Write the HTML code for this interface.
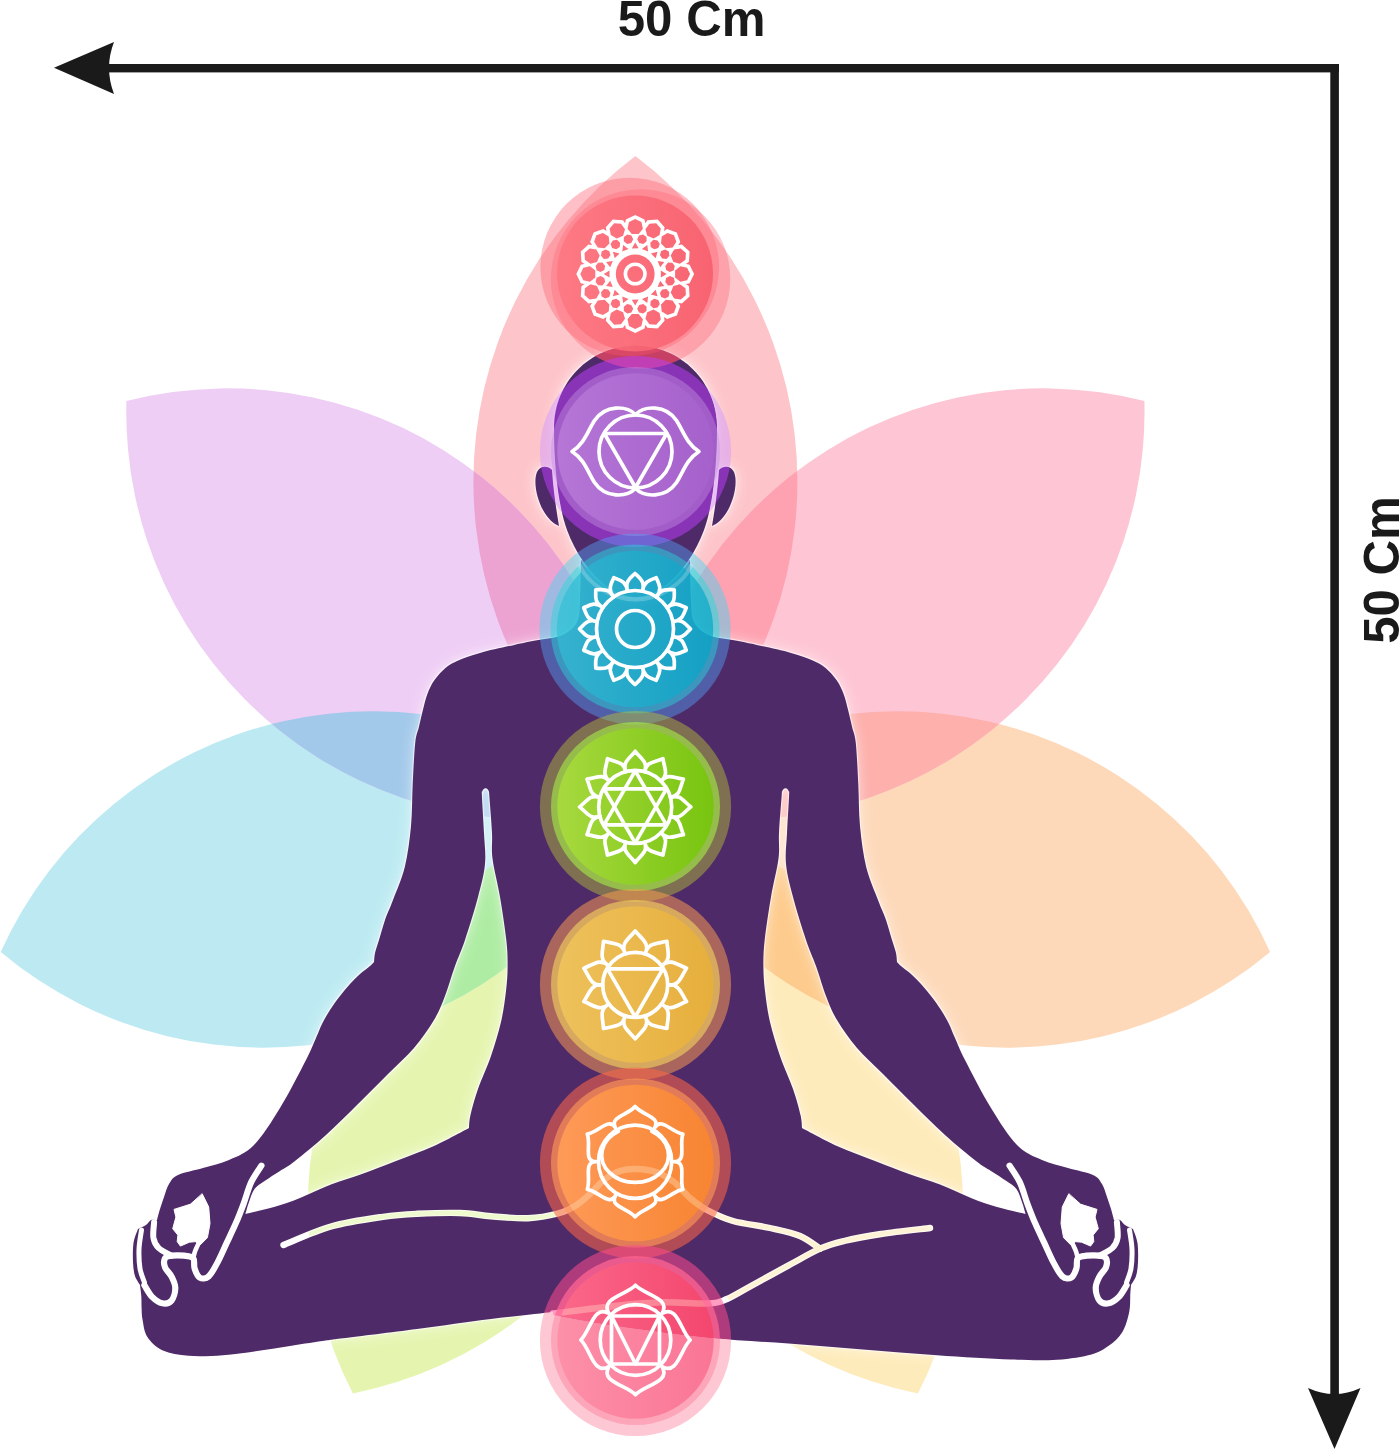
<!DOCTYPE html>
<html lang="en"><head><meta charset="utf-8"><title>Chakra meditation 50 Cm</title>
<style>html,body{margin:0;padding:0;background:#fff}body{width:1400px;height:1450px;overflow:hidden}svg{display:block}text{font-family:"Liberation Sans",Arial,sans-serif;font-weight:700;fill:#1a1a1a}</style>
</head><body>
<svg width="1400" height="1450" viewBox="0 0 1400 1450">
<defs>
<linearGradient id="g_crown" x1="0" y1="0" x2="1" y2="0"><stop offset="0" stop-color="#fd7781"/><stop offset="1" stop-color="#f75c6b"/></linearGradient>
<linearGradient id="g_third" x1="0" y1="0" x2="1" y2="0"><stop offset="0" stop-color="#d09cea"/><stop offset="1" stop-color="#aa66d0"/></linearGradient>
<linearGradient id="g_throat" x1="0" y1="0" x2="1" y2="0"><stop offset="0" stop-color="#33bfd6"/><stop offset="1" stop-color="#01a5c7"/></linearGradient>
<linearGradient id="g_heart" x1="0" y1="0" x2="1" y2="0"><stop offset="0" stop-color="#ace03b"/><stop offset="1" stop-color="#70c601"/></linearGradient>
<linearGradient id="g_solar" x1="0" y1="0" x2="1" y2="0"><stop offset="0" stop-color="#ffd35a"/><stop offset="1" stop-color="#f1b323"/></linearGradient>
<linearGradient id="g_sacral" x1="0" y1="0" x2="1" y2="0"><stop offset="0" stop-color="#ff9b58"/><stop offset="1" stop-color="#f88530"/></linearGradient>
<linearGradient id="g_root" x1="0" y1="0" x2="1" y2="0"><stop offset="0" stop-color="#ff6c8a"/><stop offset="1" stop-color="#f64166"/></linearGradient>
<clipPath id="c_pg"><path d="M635.4,807 A408,408 0 0 1 352.9,1393.5 A408,408 0 0 1 635.4,807 Z"/></clipPath>
<clipPath id="c_py"><path d="M635.4,807 A408,408 0 0 1 917.9,1393.5 A408,408 0 0 1 635.4,807 Z"/></clipPath>
<clipPath id="c_pb"><path d="M635.4,807 A408,408 0 0 1 0.7,951.9 A408,408 0 0 1 635.4,807 Z"/></clipPath>
<clipPath id="c_po"><path d="M635.4,807 A408,408 0 0 1 1270.1,951.9 A408,408 0 0 1 635.4,807 Z"/></clipPath>
<clipPath id="c_pt"><path d="M635.4,807 A408,408 0 0 1 635.4,156 A408,408 0 0 1 635.4,807 Z"/></clipPath>
<clipPath id="c_pl"><path d="M635.4,807 A408,408 0 0 1 126.4,401.1 A408,408 0 0 1 635.4,807 Z"/></clipPath>
<clipPath id="c_pp"><path d="M635.4,807 A408,408 0 0 1 1144.4,401.1 A408,408 0 0 1 635.4,807 Z"/></clipPath>
<filter id="edge" x="-5%" y="-5%" width="110%" height="110%"><feMorphology operator="dilate" radius="1.3"/><feGaussianBlur stdDeviation="0.7"/></filter>
<filter id="glow" x="-10%" y="-10%" width="120%" height="120%"><feGaussianBlur stdDeviation="6.5"/></filter>
<mask id="cuts" maskUnits="userSpaceOnUse" x="0" y="0" width="1400" height="1450">
<rect width="1400" height="1450" fill="#fff"/>
<g fill="none" stroke="#000" stroke-linecap="round" stroke-linejoin="round">
<g><path d="M261.4,1165.7C259.7,1168.5 254.1,1176 251.1,1182.4C248.1,1188.8 246,1197.4 243.4,1204.3C240.8,1211.2 238.5,1217.2 235.7,1223.6C232.9,1230 229.7,1236.5 226.7,1242.9C223.7,1249.3 220.7,1256.5 217.7,1262.1C214.7,1267.7 211.7,1273.7 208.7,1276.3C205.7,1278.9 202,1278.9 199.7,1277.6C197.3,1276.3 195.7,1271.8 194.6,1268.6C193.5,1265.4 195,1260.4 193.3,1258.3C191.6,1256.2 188,1256.1 184.3,1255.7C180.7,1255.3 174.6,1255.3 171.4,1255.7C168.2,1256.1 166.1,1256.4 165,1258.3C163.9,1260.2 163.9,1264.3 165,1267.3C166.1,1270.3 169.7,1272.9 171.4,1276.3C173.1,1279.7 175.3,1283.8 175.3,1287.9C175.3,1292 173.6,1298.1 171.4,1300.7C169.2,1303.3 165.6,1303.9 162.4,1303.3C159.2,1302.7 155.1,1299.9 152.1,1296.9C149.1,1293.9 145.7,1287.2 144.4,1285.3" stroke-width="6.2"/><path d="M154.1,1222.3C154,1224.9 152.7,1233.4 153.4,1237.7C154.2,1242 155.6,1245 158.6,1248C161.6,1251 169.3,1254.4 171.4,1255.7" stroke-width="6"/><path d="M141.5,1230C141.1,1233.2 139.2,1242.9 139,1249.3C138.8,1255.7 139.1,1263 140,1268.6C140.9,1274.2 143.8,1280.3 144.5,1282.7" stroke-width="5"/><path d="M193.3,1258.3C193.6,1257.2 194.1,1254.1 194.8,1252C195.5,1249.9 197.1,1246.6 197.6,1245.5" stroke-width="4.6"/><path d="M202.3,1194L208.7,1206.9L210,1223.6L207.4,1237.7L198.4,1246.7L195.9,1241.6L189.4,1242.2L180.4,1246.1L177.2,1241.6L177.9,1235.1L172.7,1228.7L175.9,1217.1L174,1209.4L190.1,1204.3Z" fill="#000" stroke-width="1"/></g>
<g transform="translate(1271,0) scale(-1,1)"><path d="M261.4,1165.7C259.7,1168.5 254.1,1176 251.1,1182.4C248.1,1188.8 246,1197.4 243.4,1204.3C240.8,1211.2 238.5,1217.2 235.7,1223.6C232.9,1230 229.7,1236.5 226.7,1242.9C223.7,1249.3 220.7,1256.5 217.7,1262.1C214.7,1267.7 211.7,1273.7 208.7,1276.3C205.7,1278.9 202,1278.9 199.7,1277.6C197.3,1276.3 195.7,1271.8 194.6,1268.6C193.5,1265.4 195,1260.4 193.3,1258.3C191.6,1256.2 188,1256.1 184.3,1255.7C180.7,1255.3 174.6,1255.3 171.4,1255.7C168.2,1256.1 166.1,1256.4 165,1258.3C163.9,1260.2 163.9,1264.3 165,1267.3C166.1,1270.3 169.7,1272.9 171.4,1276.3C173.1,1279.7 175.3,1283.8 175.3,1287.9C175.3,1292 173.6,1298.1 171.4,1300.7C169.2,1303.3 165.6,1303.9 162.4,1303.3C159.2,1302.7 155.1,1299.9 152.1,1296.9C149.1,1293.9 145.7,1287.2 144.4,1285.3" stroke-width="6.2"/><path d="M154.1,1222.3C154,1224.9 152.7,1233.4 153.4,1237.7C154.2,1242 155.6,1245 158.6,1248C161.6,1251 169.3,1254.4 171.4,1255.7" stroke-width="6"/><path d="M141.5,1230C141.1,1233.2 139.2,1242.9 139,1249.3C138.8,1255.7 139.1,1263 140,1268.6C140.9,1274.2 143.8,1280.3 144.5,1282.7" stroke-width="5"/><path d="M193.3,1258.3C193.6,1257.2 194.1,1254.1 194.8,1252C195.5,1249.9 197.1,1246.6 197.6,1245.5" stroke-width="4.6"/><path d="M202.3,1194L208.7,1206.9L210,1223.6L207.4,1237.7L198.4,1246.7L195.9,1241.6L189.4,1242.2L180.4,1246.1L177.2,1241.6L177.9,1235.1L172.7,1228.7L175.9,1217.1L174,1209.4L190.1,1204.3Z" fill="#000" stroke-width="1"/></g>
<path d="M283.5,1245C291.4,1241.9 314.4,1231.2 331,1226.5C347.6,1221.8 368.7,1218.9 383,1216.8C397.3,1214.7 404.2,1214.4 417,1213.8C429.8,1213.2 447.7,1212.6 460,1213C472.3,1213.4 479.7,1215.4 491,1216.3C502.3,1217.2 516.8,1218.7 528,1218.2C539.2,1217.7 550.2,1215.5 558,1213.5C565.8,1211.5 569.7,1209.2 575,1206C580.3,1202.8 585.2,1198.3 590,1194C594.8,1189.7 599,1183.8 604,1180C609,1176.2 614.7,1172.8 620,1171C625.3,1169.2 630,1168.8 636,1169C642,1169.2 649.7,1169.8 656,1172C662.3,1174.2 668.3,1177.7 674,1182C679.7,1186.3 684.5,1193.3 690,1198C695.5,1202.7 699.8,1206.2 707,1210C714.2,1213.8 722.5,1218 733,1221C743.5,1224 758.8,1225.5 770,1228C781.2,1230.5 791.7,1232.5 800,1236C808.3,1239.5 816.7,1246.6 820,1248.7" stroke-width="6.4"/>
<path d="M930,1228C921.8,1229 895.3,1231.8 881,1234C866.7,1236.2 854.2,1238.5 844,1241C833.8,1243.5 829.2,1244.6 820,1248.7C810.8,1252.8 800.1,1259.2 788.6,1265.4C777.1,1271.6 761.3,1280.4 751,1286C740.7,1291.6 734,1296.1 727,1299C720,1301.9 719.7,1302.9 709,1303.4C698.3,1304 678.3,1301.9 663,1302.3C647.7,1302.7 635.3,1303.8 617,1305.7C598.7,1307.6 563.7,1312.2 553,1313.5" stroke-width="6.4"/>
</g></mask>
<mask id="outside" maskUnits="userSpaceOnUse" x="0" y="0" width="1400" height="1450"><rect width="1400" height="1450" fill="#fff"/><g fill="#000"><path d="M581,560C580.8,566.7 580.7,589.7 580,600C579.3,610.3 580,616.1 577,622C574,627.9 568.7,632.2 562,635.3C555.3,638.3 545,638.7 537,640.3C529,641.9 523.8,642.8 514.3,644.9C504.8,647 489.5,650.2 480,652.9C470.5,655.6 462.8,658.4 457.1,660.9C451.4,663.4 449.5,664.5 445.7,667.7C441.9,670.9 437.4,675.9 434.3,680.3C431.2,684.7 429.3,689 427.4,694C425.5,699 424.3,704.5 422.9,710C421.5,715.5 420.2,721.5 418.9,727C417.6,732.5 416.2,733.5 415.2,743C414.2,752.5 413.4,770.2 412.7,784C412,797.8 412.3,812.2 411,826C409.7,839.8 407.8,854.7 404.8,867C401.8,879.3 396.3,891.2 393,900C389.7,908.8 387.3,913.3 385,920C382.7,926.7 380.7,934.5 379,940C377.3,945.5 375.8,949.3 375,953C374.2,956.7 374.2,960.5 374,962C373.3,962.7 372.3,964 370,966C367.7,968 363.3,971 360,974C356.7,977 353.3,980.3 350,984C346.7,987.7 343.3,991.7 340,996C336.7,1000.3 333,1005.3 330,1010C327,1014.7 324.3,1019.3 322,1024C319.7,1028.7 318.7,1032 316,1038C313.3,1044 312,1048.3 306,1060C300,1071.7 288.7,1093.8 280,1108C271.3,1122.2 262.5,1136.3 254,1145C245.5,1153.7 237.5,1156.2 229,1160C220.5,1163.8 211.5,1165.5 203,1168C194.5,1170.5 183.7,1172.3 178,1175C172.3,1177.7 171.3,1180.3 169,1184C166.7,1187.7 165.5,1192.8 164,1197C162.5,1201.2 161.2,1205.2 160,1209C158.8,1212.8 157.5,1218.2 157,1220C156,1220 152.8,1219.2 151,1220C149.2,1220.8 148.2,1223.5 146,1225C143.8,1226.5 139.3,1228.3 138,1229C137.2,1231.3 134.3,1237.5 133.5,1243C132.7,1248.5 132.8,1256.5 133,1262C133.2,1267.5 133.8,1272.2 135,1276C136.2,1279.8 139.2,1283.5 140,1285C140.2,1286.8 141,1292.2 141.3,1296C141.6,1299.8 141.4,1304 141.6,1308C141.8,1312 141.6,1315.2 142.6,1320C143.6,1324.8 144,1331.9 147.4,1337C150.8,1342.1 156,1347.4 162.9,1350.5C169.8,1353.6 178.6,1355 188.6,1355.8C198.6,1356.6 211.5,1356 222.9,1355.2C234.3,1354.4 245.8,1352.6 257.2,1351C268.6,1349.4 280.1,1347.5 291.5,1345.8C302.9,1344.1 317.2,1341.8 325.8,1340.6C334.4,1339.3 327.8,1340.2 343,1338.3C358.2,1336.4 392.3,1332.2 417,1329C441.7,1325.8 468.3,1321.8 491,1319C513.7,1316.2 542.7,1313.2 553,1312L553,1315C563.7,1316.8 591,1322.2 617,1326C643,1329.8 680.4,1334.8 709,1337.7C737.6,1340.6 762.9,1341.6 788.6,1343.6C814.3,1345.6 838.3,1347.6 863,1349.5C887.7,1351.4 912.3,1353.5 937,1355.2C961.7,1356.9 991,1358.8 1011,1359.6C1031,1360.3 1043.6,1360.6 1057,1359.7C1070.4,1358.8 1082.9,1356.7 1091.5,1354.4C1100.1,1352.1 1103.5,1349.5 1108.7,1345.8C1113.9,1342.1 1119,1337.7 1122.4,1332C1125.8,1326.3 1128,1317.8 1129.3,1311.5C1130.6,1305.2 1130,1298.4 1130.3,1294C1130.6,1289.6 1130.9,1286.5 1131,1285C1131.8,1283.5 1134.8,1279.8 1136,1276C1137.2,1272.2 1137.8,1267.5 1138,1262C1138.2,1256.5 1138.3,1248.5 1137.5,1243C1136.7,1237.5 1133.8,1231.3 1133,1229C1131.7,1228.3 1127.2,1226.5 1125,1225C1122.8,1223.5 1121.8,1220.8 1120,1220C1118.2,1219.2 1115,1220 1114,1220C1113.5,1218.2 1112.2,1212.8 1111,1209C1109.8,1205.2 1108.5,1201.2 1107,1197C1105.5,1192.8 1104.3,1187.7 1102,1184C1099.7,1180.3 1098.7,1177.7 1093,1175C1087.3,1172.3 1076.5,1170.5 1068,1168C1059.5,1165.5 1050.5,1163.8 1042,1160C1033.5,1156.2 1025.5,1153.7 1017,1145C1008.5,1136.3 999.7,1122.2 991,1108C982.3,1093.8 971,1071.7 965,1060C959,1048.3 957.7,1044 955,1038C952.3,1032 951.3,1028.7 949,1024C946.7,1019.3 944,1014.7 941,1010C938,1005.3 934.3,1000.3 931,996C927.7,991.7 924.3,987.7 921,984C917.7,980.3 914.3,977 911,974C907.7,971 903.3,968 901,966C898.7,964 897.7,962.7 897,962C896.8,960.5 896.8,956.7 896,953C895.2,949.3 893.7,945.5 892,940C890.3,934.5 888.3,926.7 886,920C883.7,913.3 881.3,908.8 878,900C874.7,891.2 869.2,879.3 866.2,867C863.2,854.7 861.3,839.8 860,826C858.7,812.2 859,797.8 858.3,784C857.6,770.2 856.8,752.5 855.8,743C854.8,733.5 853.4,732.5 852.1,727C850.8,721.5 849.5,715.5 848.1,710C846.7,704.5 845.5,699 843.6,694C841.7,689 839.8,684.7 836.7,680.3C833.7,675.9 829.1,670.9 825.3,667.7C821.5,664.5 819.6,663.4 813.9,660.9C808.2,658.4 800.5,655.6 791,652.9C781.5,650.2 766.2,647 756.7,644.9C747.2,642.8 742,641.9 734,640.3C726,638.7 715.7,638.3 709,635.3C702.3,632.2 697,627.9 694,622C691,616.1 691.7,610.3 691,600C690.3,589.7 690.2,566.7 690,560ZM485.5,788.3C485.2,788.4 484.1,788.7 483.5,789.2C482.9,789.8 482.5,790.6 482.2,791.6C481.9,792.6 481.6,788.6 481.9,795.5C482.2,802.4 483.5,821.6 484,833C484.5,844.4 486,853.3 485,864C484,874.7 481.3,884.3 478,897C474.7,909.7 468.8,928.5 465,940C461.2,951.5 458.4,956.5 455,966C451.6,975.5 448.1,988 444.6,997C441.1,1006 439.1,1011.5 434,1020C428.9,1028.5 421.7,1039 414,1048C406.3,1057 397.5,1064.5 388,1074C378.5,1083.5 367.3,1094.8 357,1105C346.7,1115.2 336.3,1125.7 326,1135C315.7,1144.3 302.7,1155 295,1161C287.3,1167 285.1,1167.7 280,1171C274.9,1174.3 268.9,1178 264.6,1181C260.4,1184 257.1,1185.5 254.5,1189C251.9,1192.5 250.5,1197.8 249,1202C247.5,1206.2 246,1212 245.4,1214C250.2,1212.8 264.9,1209.7 274,1207C283.1,1204.3 290.5,1201.8 300,1198C309.5,1194.2 320.7,1188.5 331,1184.5C341.3,1180.5 351.2,1177.9 362,1174C372.8,1170.1 384,1165.7 396,1161C408,1156.3 421.8,1151.5 434,1146C446.2,1140.5 463.2,1131 469,1128C469.2,1125.8 469,1121.5 470.5,1115C472,1108.5 474.6,1098.8 478,1089C481.4,1079.2 487.2,1067.2 491,1056C494.8,1044.8 498.5,1032.8 501,1022C503.5,1011.2 504.9,1000.3 506,991C507.1,981.7 507.6,974.5 507.6,966C507.7,957.5 507.6,951.5 506.3,940C505,928.5 502.3,910.6 500,897C497.7,883.4 493.8,869.3 492.5,858.6C491.2,847.9 492.5,843.5 492,833C491.5,822.5 489.8,802.4 489.3,795.5C488.8,788.6 489.2,792.6 488.9,791.6C488.6,790.6 488.2,789.8 487.6,789.2C487,788.7 485.9,788.4 485.5,788.3ZM785.5,788.3C785.8,788.4 787,788.7 787.5,789.2C788,789.8 788.5,790.6 788.8,791.6C789.1,792.6 789.4,788.6 789.1,795.5C788.8,802.4 787.5,821.6 787,833C786.5,844.4 785,853.3 786,864C787,874.7 789.7,884.3 793,897C796.3,909.7 802.2,928.5 806,940C809.8,951.5 812.6,956.5 816,966C819.4,975.5 822.9,988 826.4,997C829.9,1006 831.9,1011.5 837,1020C842.1,1028.5 849.3,1039 857,1048C864.7,1057 873.5,1064.5 883,1074C892.5,1083.5 903.7,1094.8 914,1105C924.3,1115.2 934.7,1125.7 945,1135C955.3,1144.3 968.3,1155 976,1161C983.7,1167 985.9,1167.7 991,1171C996.1,1174.3 1002.1,1178 1006.4,1181C1010.6,1184 1013.9,1185.5 1016.5,1189C1019.1,1192.5 1020.5,1197.8 1022,1202C1023.5,1206.2 1025,1212 1025.6,1214C1020.8,1212.8 1006.1,1209.7 997,1207C987.9,1204.3 980.5,1201.8 971,1198C961.5,1194.2 950.3,1188.5 940,1184.5C929.7,1180.5 919.8,1177.9 909,1174C898.2,1170.1 887,1165.7 875,1161C863,1156.3 849.2,1151.5 837,1146C824.8,1140.5 807.8,1131 802,1128C801.8,1125.8 802,1121.5 800.5,1115C799,1108.5 796.4,1098.8 793,1089C789.6,1079.2 783.8,1067.2 780,1056C776.2,1044.8 772.5,1032.8 770,1022C767.5,1011.2 766.1,1000.3 765,991C763.9,981.7 763.4,974.5 763.4,966C763.4,957.5 763.4,951.5 764.7,940C766,928.5 768.7,910.6 771,897C773.3,883.4 777.2,869.3 778.5,858.6C779.8,847.9 778.5,843.5 779,833C779.5,822.5 781.2,802.4 781.7,795.5C782.2,788.6 781.8,792.6 782.1,791.6C782.4,790.6 782.8,789.8 783.4,789.2C784,788.7 785.1,788.4 785.5,788.3Z" fill-rule="evenodd"/><path d="M635.5,345.7 C590,345.7 554,382 554,428 C554,465 558,505 567,530 C575,552 590,575 610,589 C620,595 630,597 635.5,597 C641,597 651,595 661,589 C681,575 696,552 704,530 C713,505 717,465 717,428 C717,382 681,345.7 635.5,345.7Z"/><path d="M552,470 C547,465 540,466 537,472 C533,482 537,499 543,510 C548,519 554,524 559,526 C556,508 553,488 552,470Z"/><path d="M552,470 C547,465 540,466 537,472 C533,482 537,499 543,510 C548,519 554,524 559,526 C556,508 553,488 552,470Z" transform="translate(1271,0) scale(-1,1)"/></g></mask><clipPath id="inside"><path d="M581,560C580.8,566.7 580.7,589.7 580,600C579.3,610.3 580,616.1 577,622C574,627.9 568.7,632.2 562,635.3C555.3,638.3 545,638.7 537,640.3C529,641.9 523.8,642.8 514.3,644.9C504.8,647 489.5,650.2 480,652.9C470.5,655.6 462.8,658.4 457.1,660.9C451.4,663.4 449.5,664.5 445.7,667.7C441.9,670.9 437.4,675.9 434.3,680.3C431.2,684.7 429.3,689 427.4,694C425.5,699 424.3,704.5 422.9,710C421.5,715.5 420.2,721.5 418.9,727C417.6,732.5 416.2,733.5 415.2,743C414.2,752.5 413.4,770.2 412.7,784C412,797.8 412.3,812.2 411,826C409.7,839.8 407.8,854.7 404.8,867C401.8,879.3 396.3,891.2 393,900C389.7,908.8 387.3,913.3 385,920C382.7,926.7 380.7,934.5 379,940C377.3,945.5 375.8,949.3 375,953C374.2,956.7 374.2,960.5 374,962C373.3,962.7 372.3,964 370,966C367.7,968 363.3,971 360,974C356.7,977 353.3,980.3 350,984C346.7,987.7 343.3,991.7 340,996C336.7,1000.3 333,1005.3 330,1010C327,1014.7 324.3,1019.3 322,1024C319.7,1028.7 318.7,1032 316,1038C313.3,1044 312,1048.3 306,1060C300,1071.7 288.7,1093.8 280,1108C271.3,1122.2 262.5,1136.3 254,1145C245.5,1153.7 237.5,1156.2 229,1160C220.5,1163.8 211.5,1165.5 203,1168C194.5,1170.5 183.7,1172.3 178,1175C172.3,1177.7 171.3,1180.3 169,1184C166.7,1187.7 165.5,1192.8 164,1197C162.5,1201.2 161.2,1205.2 160,1209C158.8,1212.8 157.5,1218.2 157,1220C156,1220 152.8,1219.2 151,1220C149.2,1220.8 148.2,1223.5 146,1225C143.8,1226.5 139.3,1228.3 138,1229C137.2,1231.3 134.3,1237.5 133.5,1243C132.7,1248.5 132.8,1256.5 133,1262C133.2,1267.5 133.8,1272.2 135,1276C136.2,1279.8 139.2,1283.5 140,1285C140.2,1286.8 141,1292.2 141.3,1296C141.6,1299.8 141.4,1304 141.6,1308C141.8,1312 141.6,1315.2 142.6,1320C143.6,1324.8 144,1331.9 147.4,1337C150.8,1342.1 156,1347.4 162.9,1350.5C169.8,1353.6 178.6,1355 188.6,1355.8C198.6,1356.6 211.5,1356 222.9,1355.2C234.3,1354.4 245.8,1352.6 257.2,1351C268.6,1349.4 280.1,1347.5 291.5,1345.8C302.9,1344.1 317.2,1341.8 325.8,1340.6C334.4,1339.3 327.8,1340.2 343,1338.3C358.2,1336.4 392.3,1332.2 417,1329C441.7,1325.8 468.3,1321.8 491,1319C513.7,1316.2 542.7,1313.2 553,1312L553,1315C563.7,1316.8 591,1322.2 617,1326C643,1329.8 680.4,1334.8 709,1337.7C737.6,1340.6 762.9,1341.6 788.6,1343.6C814.3,1345.6 838.3,1347.6 863,1349.5C887.7,1351.4 912.3,1353.5 937,1355.2C961.7,1356.9 991,1358.8 1011,1359.6C1031,1360.3 1043.6,1360.6 1057,1359.7C1070.4,1358.8 1082.9,1356.7 1091.5,1354.4C1100.1,1352.1 1103.5,1349.5 1108.7,1345.8C1113.9,1342.1 1119,1337.7 1122.4,1332C1125.8,1326.3 1128,1317.8 1129.3,1311.5C1130.6,1305.2 1130,1298.4 1130.3,1294C1130.6,1289.6 1130.9,1286.5 1131,1285C1131.8,1283.5 1134.8,1279.8 1136,1276C1137.2,1272.2 1137.8,1267.5 1138,1262C1138.2,1256.5 1138.3,1248.5 1137.5,1243C1136.7,1237.5 1133.8,1231.3 1133,1229C1131.7,1228.3 1127.2,1226.5 1125,1225C1122.8,1223.5 1121.8,1220.8 1120,1220C1118.2,1219.2 1115,1220 1114,1220C1113.5,1218.2 1112.2,1212.8 1111,1209C1109.8,1205.2 1108.5,1201.2 1107,1197C1105.5,1192.8 1104.3,1187.7 1102,1184C1099.7,1180.3 1098.7,1177.7 1093,1175C1087.3,1172.3 1076.5,1170.5 1068,1168C1059.5,1165.5 1050.5,1163.8 1042,1160C1033.5,1156.2 1025.5,1153.7 1017,1145C1008.5,1136.3 999.7,1122.2 991,1108C982.3,1093.8 971,1071.7 965,1060C959,1048.3 957.7,1044 955,1038C952.3,1032 951.3,1028.7 949,1024C946.7,1019.3 944,1014.7 941,1010C938,1005.3 934.3,1000.3 931,996C927.7,991.7 924.3,987.7 921,984C917.7,980.3 914.3,977 911,974C907.7,971 903.3,968 901,966C898.7,964 897.7,962.7 897,962C896.8,960.5 896.8,956.7 896,953C895.2,949.3 893.7,945.5 892,940C890.3,934.5 888.3,926.7 886,920C883.7,913.3 881.3,908.8 878,900C874.7,891.2 869.2,879.3 866.2,867C863.2,854.7 861.3,839.8 860,826C858.7,812.2 859,797.8 858.3,784C857.6,770.2 856.8,752.5 855.8,743C854.8,733.5 853.4,732.5 852.1,727C850.8,721.5 849.5,715.5 848.1,710C846.7,704.5 845.5,699 843.6,694C841.7,689 839.8,684.7 836.7,680.3C833.7,675.9 829.1,670.9 825.3,667.7C821.5,664.5 819.6,663.4 813.9,660.9C808.2,658.4 800.5,655.6 791,652.9C781.5,650.2 766.2,647 756.7,644.9C747.2,642.8 742,641.9 734,640.3C726,638.7 715.7,638.3 709,635.3C702.3,632.2 697,627.9 694,622C691,616.1 691.7,610.3 691,600C690.3,589.7 690.2,566.7 690,560ZM485.5,788.3C485.2,788.4 484.1,788.7 483.5,789.2C482.9,789.8 482.5,790.6 482.2,791.6C481.9,792.6 481.6,788.6 481.9,795.5C482.2,802.4 483.5,821.6 484,833C484.5,844.4 486,853.3 485,864C484,874.7 481.3,884.3 478,897C474.7,909.7 468.8,928.5 465,940C461.2,951.5 458.4,956.5 455,966C451.6,975.5 448.1,988 444.6,997C441.1,1006 439.1,1011.5 434,1020C428.9,1028.5 421.7,1039 414,1048C406.3,1057 397.5,1064.5 388,1074C378.5,1083.5 367.3,1094.8 357,1105C346.7,1115.2 336.3,1125.7 326,1135C315.7,1144.3 302.7,1155 295,1161C287.3,1167 285.1,1167.7 280,1171C274.9,1174.3 268.9,1178 264.6,1181C260.4,1184 257.1,1185.5 254.5,1189C251.9,1192.5 250.5,1197.8 249,1202C247.5,1206.2 246,1212 245.4,1214C250.2,1212.8 264.9,1209.7 274,1207C283.1,1204.3 290.5,1201.8 300,1198C309.5,1194.2 320.7,1188.5 331,1184.5C341.3,1180.5 351.2,1177.9 362,1174C372.8,1170.1 384,1165.7 396,1161C408,1156.3 421.8,1151.5 434,1146C446.2,1140.5 463.2,1131 469,1128C469.2,1125.8 469,1121.5 470.5,1115C472,1108.5 474.6,1098.8 478,1089C481.4,1079.2 487.2,1067.2 491,1056C494.8,1044.8 498.5,1032.8 501,1022C503.5,1011.2 504.9,1000.3 506,991C507.1,981.7 507.6,974.5 507.6,966C507.7,957.5 507.6,951.5 506.3,940C505,928.5 502.3,910.6 500,897C497.7,883.4 493.8,869.3 492.5,858.6C491.2,847.9 492.5,843.5 492,833C491.5,822.5 489.8,802.4 489.3,795.5C488.8,788.6 489.2,792.6 488.9,791.6C488.6,790.6 488.2,789.8 487.6,789.2C487,788.7 485.9,788.4 485.5,788.3ZM785.5,788.3C785.8,788.4 787,788.7 787.5,789.2C788,789.8 788.5,790.6 788.8,791.6C789.1,792.6 789.4,788.6 789.1,795.5C788.8,802.4 787.5,821.6 787,833C786.5,844.4 785,853.3 786,864C787,874.7 789.7,884.3 793,897C796.3,909.7 802.2,928.5 806,940C809.8,951.5 812.6,956.5 816,966C819.4,975.5 822.9,988 826.4,997C829.9,1006 831.9,1011.5 837,1020C842.1,1028.5 849.3,1039 857,1048C864.7,1057 873.5,1064.5 883,1074C892.5,1083.5 903.7,1094.8 914,1105C924.3,1115.2 934.7,1125.7 945,1135C955.3,1144.3 968.3,1155 976,1161C983.7,1167 985.9,1167.7 991,1171C996.1,1174.3 1002.1,1178 1006.4,1181C1010.6,1184 1013.9,1185.5 1016.5,1189C1019.1,1192.5 1020.5,1197.8 1022,1202C1023.5,1206.2 1025,1212 1025.6,1214C1020.8,1212.8 1006.1,1209.7 997,1207C987.9,1204.3 980.5,1201.8 971,1198C961.5,1194.2 950.3,1188.5 940,1184.5C929.7,1180.5 919.8,1177.9 909,1174C898.2,1170.1 887,1165.7 875,1161C863,1156.3 849.2,1151.5 837,1146C824.8,1140.5 807.8,1131 802,1128C801.8,1125.8 802,1121.5 800.5,1115C799,1108.5 796.4,1098.8 793,1089C789.6,1079.2 783.8,1067.2 780,1056C776.2,1044.8 772.5,1032.8 770,1022C767.5,1011.2 766.1,1000.3 765,991C763.9,981.7 763.4,974.5 763.4,966C763.4,957.5 763.4,951.5 764.7,940C766,928.5 768.7,910.6 771,897C773.3,883.4 777.2,869.3 778.5,858.6C779.8,847.9 778.5,843.5 779,833C779.5,822.5 781.2,802.4 781.7,795.5C782.2,788.6 781.8,792.6 782.1,791.6C782.4,790.6 782.8,789.8 783.4,789.2C784,788.7 785.1,788.4 785.5,788.3Z" clip-rule="evenodd"/><path d="M635.5,345.7 C590,345.7 554,382 554,428 C554,465 558,505 567,530 C575,552 590,575 610,589 C620,595 630,597 635.5,597 C641,597 651,595 661,589 C681,575 696,552 704,530 C713,505 717,465 717,428 C717,382 681,345.7 635.5,345.7Z"/><path d="M552,470 C547,465 540,466 537,472 C533,482 537,499 543,510 C548,519 554,524 559,526 C556,508 553,488 552,470Z"/><path d="M552,470 C547,465 540,466 537,472 C533,482 537,499 543,510 C548,519 554,524 559,526 C556,508 553,488 552,470Z" transform="translate(1271,0) scale(-1,1)"/></clipPath>
</defs>
<rect width="1400" height="1450" fill="#fff"/>
<g id="petals">
<path d="M635.4,807 A408,408 0 0 1 352.9,1393.5 A408,408 0 0 1 635.4,807 Z" fill="#e5f5b0"/>
<path d="M635.4,807 A408,408 0 0 1 917.9,1393.5 A408,408 0 0 1 635.4,807 Z" fill="#feebbb"/>
<path d="M635.4,807 A408,408 0 0 1 0.7,951.9 A408,408 0 0 1 635.4,807 Z" fill="#bdeaf2"/>
<path d="M635.4,807 A408,408 0 0 1 1270.1,951.9 A408,408 0 0 1 635.4,807 Z" fill="#fdd9ba"/>
<path d="M635.4,807 A408,408 0 0 1 635.4,156 A408,408 0 0 1 635.4,807 Z" fill="#fdc5ca"/>
<path d="M635.4,807 A408,408 0 0 1 126.4,401.1 A408,408 0 0 1 635.4,807 Z" fill="#efcef5"/>
<path d="M635.4,807 A408,408 0 0 1 1144.4,401.1 A408,408 0 0 1 635.4,807 Z" fill="#fec6d4"/>
<path d="M635.4,807 A408,408 0 0 1 635.4,156 A408,408 0 0 1 635.4,807 Z" fill="#eda3d2" clip-path="url(#c_pl)"/>
<path d="M635.4,807 A408,408 0 0 1 635.4,156 A408,408 0 0 1 635.4,807 Z" fill="#fea1b0" clip-path="url(#c_pp)"/>
<path d="M635.4,807 A408,408 0 0 1 126.4,401.1 A408,408 0 0 1 635.4,807 Z" fill="#a3c9ea" clip-path="url(#c_pb)"/>
<path d="M635.4,807 A408,408 0 0 1 1144.4,401.1 A408,408 0 0 1 635.4,807 Z" fill="#fdb0ac" clip-path="url(#c_po)"/>
<path d="M635.4,807 A408,408 0 0 1 0.7,951.9 A408,408 0 0 1 635.4,807 Z" fill="#aeeca3" clip-path="url(#c_pg)"/>
<path d="M635.4,807 A408,408 0 0 1 1270.1,951.9 A408,408 0 0 1 635.4,807 Z" fill="#fdcb8d" clip-path="url(#c_py)"/>
<path d="M635.4,807 A408,408 0 0 1 352.9,1393.5 A408,408 0 0 1 635.4,807 Z" fill="#e6e08a" clip-path="url(#c_py)"/>
</g>
<g opacity="0.62" filter="url(#glow)"><g fill="#fff" mask="url(#cuts)"><path d="M581,560C580.8,566.7 580.7,589.7 580,600C579.3,610.3 580,616.1 577,622C574,627.9 568.7,632.2 562,635.3C555.3,638.3 545,638.7 537,640.3C529,641.9 523.8,642.8 514.3,644.9C504.8,647 489.5,650.2 480,652.9C470.5,655.6 462.8,658.4 457.1,660.9C451.4,663.4 449.5,664.5 445.7,667.7C441.9,670.9 437.4,675.9 434.3,680.3C431.2,684.7 429.3,689 427.4,694C425.5,699 424.3,704.5 422.9,710C421.5,715.5 420.2,721.5 418.9,727C417.6,732.5 416.2,733.5 415.2,743C414.2,752.5 413.4,770.2 412.7,784C412,797.8 412.3,812.2 411,826C409.7,839.8 407.8,854.7 404.8,867C401.8,879.3 396.3,891.2 393,900C389.7,908.8 387.3,913.3 385,920C382.7,926.7 380.7,934.5 379,940C377.3,945.5 375.8,949.3 375,953C374.2,956.7 374.2,960.5 374,962C373.3,962.7 372.3,964 370,966C367.7,968 363.3,971 360,974C356.7,977 353.3,980.3 350,984C346.7,987.7 343.3,991.7 340,996C336.7,1000.3 333,1005.3 330,1010C327,1014.7 324.3,1019.3 322,1024C319.7,1028.7 318.7,1032 316,1038C313.3,1044 312,1048.3 306,1060C300,1071.7 288.7,1093.8 280,1108C271.3,1122.2 262.5,1136.3 254,1145C245.5,1153.7 237.5,1156.2 229,1160C220.5,1163.8 211.5,1165.5 203,1168C194.5,1170.5 183.7,1172.3 178,1175C172.3,1177.7 171.3,1180.3 169,1184C166.7,1187.7 165.5,1192.8 164,1197C162.5,1201.2 161.2,1205.2 160,1209C158.8,1212.8 157.5,1218.2 157,1220C156,1220 152.8,1219.2 151,1220C149.2,1220.8 148.2,1223.5 146,1225C143.8,1226.5 139.3,1228.3 138,1229C137.2,1231.3 134.3,1237.5 133.5,1243C132.7,1248.5 132.8,1256.5 133,1262C133.2,1267.5 133.8,1272.2 135,1276C136.2,1279.8 139.2,1283.5 140,1285C140.2,1286.8 141,1292.2 141.3,1296C141.6,1299.8 141.4,1304 141.6,1308C141.8,1312 141.6,1315.2 142.6,1320C143.6,1324.8 144,1331.9 147.4,1337C150.8,1342.1 156,1347.4 162.9,1350.5C169.8,1353.6 178.6,1355 188.6,1355.8C198.6,1356.6 211.5,1356 222.9,1355.2C234.3,1354.4 245.8,1352.6 257.2,1351C268.6,1349.4 280.1,1347.5 291.5,1345.8C302.9,1344.1 317.2,1341.8 325.8,1340.6C334.4,1339.3 327.8,1340.2 343,1338.3C358.2,1336.4 392.3,1332.2 417,1329C441.7,1325.8 468.3,1321.8 491,1319C513.7,1316.2 542.7,1313.2 553,1312L553,1315C563.7,1316.8 591,1322.2 617,1326C643,1329.8 680.4,1334.8 709,1337.7C737.6,1340.6 762.9,1341.6 788.6,1343.6C814.3,1345.6 838.3,1347.6 863,1349.5C887.7,1351.4 912.3,1353.5 937,1355.2C961.7,1356.9 991,1358.8 1011,1359.6C1031,1360.3 1043.6,1360.6 1057,1359.7C1070.4,1358.8 1082.9,1356.7 1091.5,1354.4C1100.1,1352.1 1103.5,1349.5 1108.7,1345.8C1113.9,1342.1 1119,1337.7 1122.4,1332C1125.8,1326.3 1128,1317.8 1129.3,1311.5C1130.6,1305.2 1130,1298.4 1130.3,1294C1130.6,1289.6 1130.9,1286.5 1131,1285C1131.8,1283.5 1134.8,1279.8 1136,1276C1137.2,1272.2 1137.8,1267.5 1138,1262C1138.2,1256.5 1138.3,1248.5 1137.5,1243C1136.7,1237.5 1133.8,1231.3 1133,1229C1131.7,1228.3 1127.2,1226.5 1125,1225C1122.8,1223.5 1121.8,1220.8 1120,1220C1118.2,1219.2 1115,1220 1114,1220C1113.5,1218.2 1112.2,1212.8 1111,1209C1109.8,1205.2 1108.5,1201.2 1107,1197C1105.5,1192.8 1104.3,1187.7 1102,1184C1099.7,1180.3 1098.7,1177.7 1093,1175C1087.3,1172.3 1076.5,1170.5 1068,1168C1059.5,1165.5 1050.5,1163.8 1042,1160C1033.5,1156.2 1025.5,1153.7 1017,1145C1008.5,1136.3 999.7,1122.2 991,1108C982.3,1093.8 971,1071.7 965,1060C959,1048.3 957.7,1044 955,1038C952.3,1032 951.3,1028.7 949,1024C946.7,1019.3 944,1014.7 941,1010C938,1005.3 934.3,1000.3 931,996C927.7,991.7 924.3,987.7 921,984C917.7,980.3 914.3,977 911,974C907.7,971 903.3,968 901,966C898.7,964 897.7,962.7 897,962C896.8,960.5 896.8,956.7 896,953C895.2,949.3 893.7,945.5 892,940C890.3,934.5 888.3,926.7 886,920C883.7,913.3 881.3,908.8 878,900C874.7,891.2 869.2,879.3 866.2,867C863.2,854.7 861.3,839.8 860,826C858.7,812.2 859,797.8 858.3,784C857.6,770.2 856.8,752.5 855.8,743C854.8,733.5 853.4,732.5 852.1,727C850.8,721.5 849.5,715.5 848.1,710C846.7,704.5 845.5,699 843.6,694C841.7,689 839.8,684.7 836.7,680.3C833.7,675.9 829.1,670.9 825.3,667.7C821.5,664.5 819.6,663.4 813.9,660.9C808.2,658.4 800.5,655.6 791,652.9C781.5,650.2 766.2,647 756.7,644.9C747.2,642.8 742,641.9 734,640.3C726,638.7 715.7,638.3 709,635.3C702.3,632.2 697,627.9 694,622C691,616.1 691.7,610.3 691,600C690.3,589.7 690.2,566.7 690,560ZM485.5,788.3C485.2,788.4 484.1,788.7 483.5,789.2C482.9,789.8 482.5,790.6 482.2,791.6C481.9,792.6 481.6,788.6 481.9,795.5C482.2,802.4 483.5,821.6 484,833C484.5,844.4 486,853.3 485,864C484,874.7 481.3,884.3 478,897C474.7,909.7 468.8,928.5 465,940C461.2,951.5 458.4,956.5 455,966C451.6,975.5 448.1,988 444.6,997C441.1,1006 439.1,1011.5 434,1020C428.9,1028.5 421.7,1039 414,1048C406.3,1057 397.5,1064.5 388,1074C378.5,1083.5 367.3,1094.8 357,1105C346.7,1115.2 336.3,1125.7 326,1135C315.7,1144.3 302.7,1155 295,1161C287.3,1167 285.1,1167.7 280,1171C274.9,1174.3 268.9,1178 264.6,1181C260.4,1184 257.1,1185.5 254.5,1189C251.9,1192.5 250.5,1197.8 249,1202C247.5,1206.2 246,1212 245.4,1214C250.2,1212.8 264.9,1209.7 274,1207C283.1,1204.3 290.5,1201.8 300,1198C309.5,1194.2 320.7,1188.5 331,1184.5C341.3,1180.5 351.2,1177.9 362,1174C372.8,1170.1 384,1165.7 396,1161C408,1156.3 421.8,1151.5 434,1146C446.2,1140.5 463.2,1131 469,1128C469.2,1125.8 469,1121.5 470.5,1115C472,1108.5 474.6,1098.8 478,1089C481.4,1079.2 487.2,1067.2 491,1056C494.8,1044.8 498.5,1032.8 501,1022C503.5,1011.2 504.9,1000.3 506,991C507.1,981.7 507.6,974.5 507.6,966C507.7,957.5 507.6,951.5 506.3,940C505,928.5 502.3,910.6 500,897C497.7,883.4 493.8,869.3 492.5,858.6C491.2,847.9 492.5,843.5 492,833C491.5,822.5 489.8,802.4 489.3,795.5C488.8,788.6 489.2,792.6 488.9,791.6C488.6,790.6 488.2,789.8 487.6,789.2C487,788.7 485.9,788.4 485.5,788.3ZM785.5,788.3C785.8,788.4 787,788.7 787.5,789.2C788,789.8 788.5,790.6 788.8,791.6C789.1,792.6 789.4,788.6 789.1,795.5C788.8,802.4 787.5,821.6 787,833C786.5,844.4 785,853.3 786,864C787,874.7 789.7,884.3 793,897C796.3,909.7 802.2,928.5 806,940C809.8,951.5 812.6,956.5 816,966C819.4,975.5 822.9,988 826.4,997C829.9,1006 831.9,1011.5 837,1020C842.1,1028.5 849.3,1039 857,1048C864.7,1057 873.5,1064.5 883,1074C892.5,1083.5 903.7,1094.8 914,1105C924.3,1115.2 934.7,1125.7 945,1135C955.3,1144.3 968.3,1155 976,1161C983.7,1167 985.9,1167.7 991,1171C996.1,1174.3 1002.1,1178 1006.4,1181C1010.6,1184 1013.9,1185.5 1016.5,1189C1019.1,1192.5 1020.5,1197.8 1022,1202C1023.5,1206.2 1025,1212 1025.6,1214C1020.8,1212.8 1006.1,1209.7 997,1207C987.9,1204.3 980.5,1201.8 971,1198C961.5,1194.2 950.3,1188.5 940,1184.5C929.7,1180.5 919.8,1177.9 909,1174C898.2,1170.1 887,1165.7 875,1161C863,1156.3 849.2,1151.5 837,1146C824.8,1140.5 807.8,1131 802,1128C801.8,1125.8 802,1121.5 800.5,1115C799,1108.5 796.4,1098.8 793,1089C789.6,1079.2 783.8,1067.2 780,1056C776.2,1044.8 772.5,1032.8 770,1022C767.5,1011.2 766.1,1000.3 765,991C763.9,981.7 763.4,974.5 763.4,966C763.4,957.5 763.4,951.5 764.7,940C766,928.5 768.7,910.6 771,897C773.3,883.4 777.2,869.3 778.5,858.6C779.8,847.9 778.5,843.5 779,833C779.5,822.5 781.2,802.4 781.7,795.5C782.2,788.6 781.8,792.6 782.1,791.6C782.4,790.6 782.8,789.8 783.4,789.2C784,788.7 785.1,788.4 785.5,788.3Z" fill-rule="evenodd"/></g></g>
<g opacity="0.6" filter="url(#edge)"><g fill="#fff" mask="url(#cuts)"><path d="M581,560C580.8,566.7 580.7,589.7 580,600C579.3,610.3 580,616.1 577,622C574,627.9 568.7,632.2 562,635.3C555.3,638.3 545,638.7 537,640.3C529,641.9 523.8,642.8 514.3,644.9C504.8,647 489.5,650.2 480,652.9C470.5,655.6 462.8,658.4 457.1,660.9C451.4,663.4 449.5,664.5 445.7,667.7C441.9,670.9 437.4,675.9 434.3,680.3C431.2,684.7 429.3,689 427.4,694C425.5,699 424.3,704.5 422.9,710C421.5,715.5 420.2,721.5 418.9,727C417.6,732.5 416.2,733.5 415.2,743C414.2,752.5 413.4,770.2 412.7,784C412,797.8 412.3,812.2 411,826C409.7,839.8 407.8,854.7 404.8,867C401.8,879.3 396.3,891.2 393,900C389.7,908.8 387.3,913.3 385,920C382.7,926.7 380.7,934.5 379,940C377.3,945.5 375.8,949.3 375,953C374.2,956.7 374.2,960.5 374,962C373.3,962.7 372.3,964 370,966C367.7,968 363.3,971 360,974C356.7,977 353.3,980.3 350,984C346.7,987.7 343.3,991.7 340,996C336.7,1000.3 333,1005.3 330,1010C327,1014.7 324.3,1019.3 322,1024C319.7,1028.7 318.7,1032 316,1038C313.3,1044 312,1048.3 306,1060C300,1071.7 288.7,1093.8 280,1108C271.3,1122.2 262.5,1136.3 254,1145C245.5,1153.7 237.5,1156.2 229,1160C220.5,1163.8 211.5,1165.5 203,1168C194.5,1170.5 183.7,1172.3 178,1175C172.3,1177.7 171.3,1180.3 169,1184C166.7,1187.7 165.5,1192.8 164,1197C162.5,1201.2 161.2,1205.2 160,1209C158.8,1212.8 157.5,1218.2 157,1220C156,1220 152.8,1219.2 151,1220C149.2,1220.8 148.2,1223.5 146,1225C143.8,1226.5 139.3,1228.3 138,1229C137.2,1231.3 134.3,1237.5 133.5,1243C132.7,1248.5 132.8,1256.5 133,1262C133.2,1267.5 133.8,1272.2 135,1276C136.2,1279.8 139.2,1283.5 140,1285C140.2,1286.8 141,1292.2 141.3,1296C141.6,1299.8 141.4,1304 141.6,1308C141.8,1312 141.6,1315.2 142.6,1320C143.6,1324.8 144,1331.9 147.4,1337C150.8,1342.1 156,1347.4 162.9,1350.5C169.8,1353.6 178.6,1355 188.6,1355.8C198.6,1356.6 211.5,1356 222.9,1355.2C234.3,1354.4 245.8,1352.6 257.2,1351C268.6,1349.4 280.1,1347.5 291.5,1345.8C302.9,1344.1 317.2,1341.8 325.8,1340.6C334.4,1339.3 327.8,1340.2 343,1338.3C358.2,1336.4 392.3,1332.2 417,1329C441.7,1325.8 468.3,1321.8 491,1319C513.7,1316.2 542.7,1313.2 553,1312L553,1315C563.7,1316.8 591,1322.2 617,1326C643,1329.8 680.4,1334.8 709,1337.7C737.6,1340.6 762.9,1341.6 788.6,1343.6C814.3,1345.6 838.3,1347.6 863,1349.5C887.7,1351.4 912.3,1353.5 937,1355.2C961.7,1356.9 991,1358.8 1011,1359.6C1031,1360.3 1043.6,1360.6 1057,1359.7C1070.4,1358.8 1082.9,1356.7 1091.5,1354.4C1100.1,1352.1 1103.5,1349.5 1108.7,1345.8C1113.9,1342.1 1119,1337.7 1122.4,1332C1125.8,1326.3 1128,1317.8 1129.3,1311.5C1130.6,1305.2 1130,1298.4 1130.3,1294C1130.6,1289.6 1130.9,1286.5 1131,1285C1131.8,1283.5 1134.8,1279.8 1136,1276C1137.2,1272.2 1137.8,1267.5 1138,1262C1138.2,1256.5 1138.3,1248.5 1137.5,1243C1136.7,1237.5 1133.8,1231.3 1133,1229C1131.7,1228.3 1127.2,1226.5 1125,1225C1122.8,1223.5 1121.8,1220.8 1120,1220C1118.2,1219.2 1115,1220 1114,1220C1113.5,1218.2 1112.2,1212.8 1111,1209C1109.8,1205.2 1108.5,1201.2 1107,1197C1105.5,1192.8 1104.3,1187.7 1102,1184C1099.7,1180.3 1098.7,1177.7 1093,1175C1087.3,1172.3 1076.5,1170.5 1068,1168C1059.5,1165.5 1050.5,1163.8 1042,1160C1033.5,1156.2 1025.5,1153.7 1017,1145C1008.5,1136.3 999.7,1122.2 991,1108C982.3,1093.8 971,1071.7 965,1060C959,1048.3 957.7,1044 955,1038C952.3,1032 951.3,1028.7 949,1024C946.7,1019.3 944,1014.7 941,1010C938,1005.3 934.3,1000.3 931,996C927.7,991.7 924.3,987.7 921,984C917.7,980.3 914.3,977 911,974C907.7,971 903.3,968 901,966C898.7,964 897.7,962.7 897,962C896.8,960.5 896.8,956.7 896,953C895.2,949.3 893.7,945.5 892,940C890.3,934.5 888.3,926.7 886,920C883.7,913.3 881.3,908.8 878,900C874.7,891.2 869.2,879.3 866.2,867C863.2,854.7 861.3,839.8 860,826C858.7,812.2 859,797.8 858.3,784C857.6,770.2 856.8,752.5 855.8,743C854.8,733.5 853.4,732.5 852.1,727C850.8,721.5 849.5,715.5 848.1,710C846.7,704.5 845.5,699 843.6,694C841.7,689 839.8,684.7 836.7,680.3C833.7,675.9 829.1,670.9 825.3,667.7C821.5,664.5 819.6,663.4 813.9,660.9C808.2,658.4 800.5,655.6 791,652.9C781.5,650.2 766.2,647 756.7,644.9C747.2,642.8 742,641.9 734,640.3C726,638.7 715.7,638.3 709,635.3C702.3,632.2 697,627.9 694,622C691,616.1 691.7,610.3 691,600C690.3,589.7 690.2,566.7 690,560ZM485.5,788.3C485.2,788.4 484.1,788.7 483.5,789.2C482.9,789.8 482.5,790.6 482.2,791.6C481.9,792.6 481.6,788.6 481.9,795.5C482.2,802.4 483.5,821.6 484,833C484.5,844.4 486,853.3 485,864C484,874.7 481.3,884.3 478,897C474.7,909.7 468.8,928.5 465,940C461.2,951.5 458.4,956.5 455,966C451.6,975.5 448.1,988 444.6,997C441.1,1006 439.1,1011.5 434,1020C428.9,1028.5 421.7,1039 414,1048C406.3,1057 397.5,1064.5 388,1074C378.5,1083.5 367.3,1094.8 357,1105C346.7,1115.2 336.3,1125.7 326,1135C315.7,1144.3 302.7,1155 295,1161C287.3,1167 285.1,1167.7 280,1171C274.9,1174.3 268.9,1178 264.6,1181C260.4,1184 257.1,1185.5 254.5,1189C251.9,1192.5 250.5,1197.8 249,1202C247.5,1206.2 246,1212 245.4,1214C250.2,1212.8 264.9,1209.7 274,1207C283.1,1204.3 290.5,1201.8 300,1198C309.5,1194.2 320.7,1188.5 331,1184.5C341.3,1180.5 351.2,1177.9 362,1174C372.8,1170.1 384,1165.7 396,1161C408,1156.3 421.8,1151.5 434,1146C446.2,1140.5 463.2,1131 469,1128C469.2,1125.8 469,1121.5 470.5,1115C472,1108.5 474.6,1098.8 478,1089C481.4,1079.2 487.2,1067.2 491,1056C494.8,1044.8 498.5,1032.8 501,1022C503.5,1011.2 504.9,1000.3 506,991C507.1,981.7 507.6,974.5 507.6,966C507.7,957.5 507.6,951.5 506.3,940C505,928.5 502.3,910.6 500,897C497.7,883.4 493.8,869.3 492.5,858.6C491.2,847.9 492.5,843.5 492,833C491.5,822.5 489.8,802.4 489.3,795.5C488.8,788.6 489.2,792.6 488.9,791.6C488.6,790.6 488.2,789.8 487.6,789.2C487,788.7 485.9,788.4 485.5,788.3ZM785.5,788.3C785.8,788.4 787,788.7 787.5,789.2C788,789.8 788.5,790.6 788.8,791.6C789.1,792.6 789.4,788.6 789.1,795.5C788.8,802.4 787.5,821.6 787,833C786.5,844.4 785,853.3 786,864C787,874.7 789.7,884.3 793,897C796.3,909.7 802.2,928.5 806,940C809.8,951.5 812.6,956.5 816,966C819.4,975.5 822.9,988 826.4,997C829.9,1006 831.9,1011.5 837,1020C842.1,1028.5 849.3,1039 857,1048C864.7,1057 873.5,1064.5 883,1074C892.5,1083.5 903.7,1094.8 914,1105C924.3,1115.2 934.7,1125.7 945,1135C955.3,1144.3 968.3,1155 976,1161C983.7,1167 985.9,1167.7 991,1171C996.1,1174.3 1002.1,1178 1006.4,1181C1010.6,1184 1013.9,1185.5 1016.5,1189C1019.1,1192.5 1020.5,1197.8 1022,1202C1023.5,1206.2 1025,1212 1025.6,1214C1020.8,1212.8 1006.1,1209.7 997,1207C987.9,1204.3 980.5,1201.8 971,1198C961.5,1194.2 950.3,1188.5 940,1184.5C929.7,1180.5 919.8,1177.9 909,1174C898.2,1170.1 887,1165.7 875,1161C863,1156.3 849.2,1151.5 837,1146C824.8,1140.5 807.8,1131 802,1128C801.8,1125.8 802,1121.5 800.5,1115C799,1108.5 796.4,1098.8 793,1089C789.6,1079.2 783.8,1067.2 780,1056C776.2,1044.8 772.5,1032.8 770,1022C767.5,1011.2 766.1,1000.3 765,991C763.9,981.7 763.4,974.5 763.4,966C763.4,957.5 763.4,951.5 764.7,940C766,928.5 768.7,910.6 771,897C773.3,883.4 777.2,869.3 778.5,858.6C779.8,847.9 778.5,843.5 779,833C779.5,822.5 781.2,802.4 781.7,795.5C782.2,788.6 781.8,792.6 782.1,791.6C782.4,790.6 782.8,789.8 783.4,789.2C784,788.7 785.1,788.4 785.5,788.3Z" fill-rule="evenodd"/></g></g>
<g fill="#4f2a68" mask="url(#cuts)"><path d="M581,560C580.8,566.7 580.7,589.7 580,600C579.3,610.3 580,616.1 577,622C574,627.9 568.7,632.2 562,635.3C555.3,638.3 545,638.7 537,640.3C529,641.9 523.8,642.8 514.3,644.9C504.8,647 489.5,650.2 480,652.9C470.5,655.6 462.8,658.4 457.1,660.9C451.4,663.4 449.5,664.5 445.7,667.7C441.9,670.9 437.4,675.9 434.3,680.3C431.2,684.7 429.3,689 427.4,694C425.5,699 424.3,704.5 422.9,710C421.5,715.5 420.2,721.5 418.9,727C417.6,732.5 416.2,733.5 415.2,743C414.2,752.5 413.4,770.2 412.7,784C412,797.8 412.3,812.2 411,826C409.7,839.8 407.8,854.7 404.8,867C401.8,879.3 396.3,891.2 393,900C389.7,908.8 387.3,913.3 385,920C382.7,926.7 380.7,934.5 379,940C377.3,945.5 375.8,949.3 375,953C374.2,956.7 374.2,960.5 374,962C373.3,962.7 372.3,964 370,966C367.7,968 363.3,971 360,974C356.7,977 353.3,980.3 350,984C346.7,987.7 343.3,991.7 340,996C336.7,1000.3 333,1005.3 330,1010C327,1014.7 324.3,1019.3 322,1024C319.7,1028.7 318.7,1032 316,1038C313.3,1044 312,1048.3 306,1060C300,1071.7 288.7,1093.8 280,1108C271.3,1122.2 262.5,1136.3 254,1145C245.5,1153.7 237.5,1156.2 229,1160C220.5,1163.8 211.5,1165.5 203,1168C194.5,1170.5 183.7,1172.3 178,1175C172.3,1177.7 171.3,1180.3 169,1184C166.7,1187.7 165.5,1192.8 164,1197C162.5,1201.2 161.2,1205.2 160,1209C158.8,1212.8 157.5,1218.2 157,1220C156,1220 152.8,1219.2 151,1220C149.2,1220.8 148.2,1223.5 146,1225C143.8,1226.5 139.3,1228.3 138,1229C137.2,1231.3 134.3,1237.5 133.5,1243C132.7,1248.5 132.8,1256.5 133,1262C133.2,1267.5 133.8,1272.2 135,1276C136.2,1279.8 139.2,1283.5 140,1285C140.2,1286.8 141,1292.2 141.3,1296C141.6,1299.8 141.4,1304 141.6,1308C141.8,1312 141.6,1315.2 142.6,1320C143.6,1324.8 144,1331.9 147.4,1337C150.8,1342.1 156,1347.4 162.9,1350.5C169.8,1353.6 178.6,1355 188.6,1355.8C198.6,1356.6 211.5,1356 222.9,1355.2C234.3,1354.4 245.8,1352.6 257.2,1351C268.6,1349.4 280.1,1347.5 291.5,1345.8C302.9,1344.1 317.2,1341.8 325.8,1340.6C334.4,1339.3 327.8,1340.2 343,1338.3C358.2,1336.4 392.3,1332.2 417,1329C441.7,1325.8 468.3,1321.8 491,1319C513.7,1316.2 542.7,1313.2 553,1312L553,1315C563.7,1316.8 591,1322.2 617,1326C643,1329.8 680.4,1334.8 709,1337.7C737.6,1340.6 762.9,1341.6 788.6,1343.6C814.3,1345.6 838.3,1347.6 863,1349.5C887.7,1351.4 912.3,1353.5 937,1355.2C961.7,1356.9 991,1358.8 1011,1359.6C1031,1360.3 1043.6,1360.6 1057,1359.7C1070.4,1358.8 1082.9,1356.7 1091.5,1354.4C1100.1,1352.1 1103.5,1349.5 1108.7,1345.8C1113.9,1342.1 1119,1337.7 1122.4,1332C1125.8,1326.3 1128,1317.8 1129.3,1311.5C1130.6,1305.2 1130,1298.4 1130.3,1294C1130.6,1289.6 1130.9,1286.5 1131,1285C1131.8,1283.5 1134.8,1279.8 1136,1276C1137.2,1272.2 1137.8,1267.5 1138,1262C1138.2,1256.5 1138.3,1248.5 1137.5,1243C1136.7,1237.5 1133.8,1231.3 1133,1229C1131.7,1228.3 1127.2,1226.5 1125,1225C1122.8,1223.5 1121.8,1220.8 1120,1220C1118.2,1219.2 1115,1220 1114,1220C1113.5,1218.2 1112.2,1212.8 1111,1209C1109.8,1205.2 1108.5,1201.2 1107,1197C1105.5,1192.8 1104.3,1187.7 1102,1184C1099.7,1180.3 1098.7,1177.7 1093,1175C1087.3,1172.3 1076.5,1170.5 1068,1168C1059.5,1165.5 1050.5,1163.8 1042,1160C1033.5,1156.2 1025.5,1153.7 1017,1145C1008.5,1136.3 999.7,1122.2 991,1108C982.3,1093.8 971,1071.7 965,1060C959,1048.3 957.7,1044 955,1038C952.3,1032 951.3,1028.7 949,1024C946.7,1019.3 944,1014.7 941,1010C938,1005.3 934.3,1000.3 931,996C927.7,991.7 924.3,987.7 921,984C917.7,980.3 914.3,977 911,974C907.7,971 903.3,968 901,966C898.7,964 897.7,962.7 897,962C896.8,960.5 896.8,956.7 896,953C895.2,949.3 893.7,945.5 892,940C890.3,934.5 888.3,926.7 886,920C883.7,913.3 881.3,908.8 878,900C874.7,891.2 869.2,879.3 866.2,867C863.2,854.7 861.3,839.8 860,826C858.7,812.2 859,797.8 858.3,784C857.6,770.2 856.8,752.5 855.8,743C854.8,733.5 853.4,732.5 852.1,727C850.8,721.5 849.5,715.5 848.1,710C846.7,704.5 845.5,699 843.6,694C841.7,689 839.8,684.7 836.7,680.3C833.7,675.9 829.1,670.9 825.3,667.7C821.5,664.5 819.6,663.4 813.9,660.9C808.2,658.4 800.5,655.6 791,652.9C781.5,650.2 766.2,647 756.7,644.9C747.2,642.8 742,641.9 734,640.3C726,638.7 715.7,638.3 709,635.3C702.3,632.2 697,627.9 694,622C691,616.1 691.7,610.3 691,600C690.3,589.7 690.2,566.7 690,560ZM485.5,788.3C485.2,788.4 484.1,788.7 483.5,789.2C482.9,789.8 482.5,790.6 482.2,791.6C481.9,792.6 481.6,788.6 481.9,795.5C482.2,802.4 483.5,821.6 484,833C484.5,844.4 486,853.3 485,864C484,874.7 481.3,884.3 478,897C474.7,909.7 468.8,928.5 465,940C461.2,951.5 458.4,956.5 455,966C451.6,975.5 448.1,988 444.6,997C441.1,1006 439.1,1011.5 434,1020C428.9,1028.5 421.7,1039 414,1048C406.3,1057 397.5,1064.5 388,1074C378.5,1083.5 367.3,1094.8 357,1105C346.7,1115.2 336.3,1125.7 326,1135C315.7,1144.3 302.7,1155 295,1161C287.3,1167 285.1,1167.7 280,1171C274.9,1174.3 268.9,1178 264.6,1181C260.4,1184 257.1,1185.5 254.5,1189C251.9,1192.5 250.5,1197.8 249,1202C247.5,1206.2 246,1212 245.4,1214C250.2,1212.8 264.9,1209.7 274,1207C283.1,1204.3 290.5,1201.8 300,1198C309.5,1194.2 320.7,1188.5 331,1184.5C341.3,1180.5 351.2,1177.9 362,1174C372.8,1170.1 384,1165.7 396,1161C408,1156.3 421.8,1151.5 434,1146C446.2,1140.5 463.2,1131 469,1128C469.2,1125.8 469,1121.5 470.5,1115C472,1108.5 474.6,1098.8 478,1089C481.4,1079.2 487.2,1067.2 491,1056C494.8,1044.8 498.5,1032.8 501,1022C503.5,1011.2 504.9,1000.3 506,991C507.1,981.7 507.6,974.5 507.6,966C507.7,957.5 507.6,951.5 506.3,940C505,928.5 502.3,910.6 500,897C497.7,883.4 493.8,869.3 492.5,858.6C491.2,847.9 492.5,843.5 492,833C491.5,822.5 489.8,802.4 489.3,795.5C488.8,788.6 489.2,792.6 488.9,791.6C488.6,790.6 488.2,789.8 487.6,789.2C487,788.7 485.9,788.4 485.5,788.3ZM785.5,788.3C785.8,788.4 787,788.7 787.5,789.2C788,789.8 788.5,790.6 788.8,791.6C789.1,792.6 789.4,788.6 789.1,795.5C788.8,802.4 787.5,821.6 787,833C786.5,844.4 785,853.3 786,864C787,874.7 789.7,884.3 793,897C796.3,909.7 802.2,928.5 806,940C809.8,951.5 812.6,956.5 816,966C819.4,975.5 822.9,988 826.4,997C829.9,1006 831.9,1011.5 837,1020C842.1,1028.5 849.3,1039 857,1048C864.7,1057 873.5,1064.5 883,1074C892.5,1083.5 903.7,1094.8 914,1105C924.3,1115.2 934.7,1125.7 945,1135C955.3,1144.3 968.3,1155 976,1161C983.7,1167 985.9,1167.7 991,1171C996.1,1174.3 1002.1,1178 1006.4,1181C1010.6,1184 1013.9,1185.5 1016.5,1189C1019.1,1192.5 1020.5,1197.8 1022,1202C1023.5,1206.2 1025,1212 1025.6,1214C1020.8,1212.8 1006.1,1209.7 997,1207C987.9,1204.3 980.5,1201.8 971,1198C961.5,1194.2 950.3,1188.5 940,1184.5C929.7,1180.5 919.8,1177.9 909,1174C898.2,1170.1 887,1165.7 875,1161C863,1156.3 849.2,1151.5 837,1146C824.8,1140.5 807.8,1131 802,1128C801.8,1125.8 802,1121.5 800.5,1115C799,1108.5 796.4,1098.8 793,1089C789.6,1079.2 783.8,1067.2 780,1056C776.2,1044.8 772.5,1032.8 770,1022C767.5,1011.2 766.1,1000.3 765,991C763.9,981.7 763.4,974.5 763.4,966C763.4,957.5 763.4,951.5 764.7,940C766,928.5 768.7,910.6 771,897C773.3,883.4 777.2,869.3 778.5,858.6C779.8,847.9 778.5,843.5 779,833C779.5,822.5 781.2,802.4 781.7,795.5C782.2,788.6 781.8,792.6 782.1,791.6C782.4,790.6 782.8,789.8 783.4,789.2C784,788.7 785.1,788.4 785.5,788.3Z" fill-rule="evenodd"/></g>
<g fill="#fff" opacity="0.75" filter="url(#glow)"><path d="M635.5,345.7 C590,345.7 554,382 554,428 C554,465 558,505 567,530 C575,552 590,575 610,589 C620,595 630,597 635.5,597 C641,597 651,595 661,589 C681,575 696,552 704,530 C713,505 717,465 717,428 C717,382 681,345.7 635.5,345.7Z"/><path d="M552,470 C547,465 540,466 537,472 C533,482 537,499 543,510 C548,519 554,524 559,526 C556,508 553,488 552,470Z"/><path d="M552,470 C547,465 540,466 537,472 C533,482 537,499 543,510 C548,519 554,524 559,526 C556,508 553,488 552,470Z" transform="translate(1271,0) scale(-1,1)"/></g>
<g fill="#fff" opacity="0.5" filter="url(#edge)"><path d="M635.5,345.7 C590,345.7 554,382 554,428 C554,465 558,505 567,530 C575,552 590,575 610,589 C620,595 630,597 635.5,597 C641,597 651,595 661,589 C681,575 696,552 704,530 C713,505 717,465 717,428 C717,382 681,345.7 635.5,345.7Z"/><path d="M552,470 C547,465 540,466 537,472 C533,482 537,499 543,510 C548,519 554,524 559,526 C556,508 553,488 552,470Z"/><path d="M552,470 C547,465 540,466 537,472 C533,482 537,499 543,510 C548,519 554,524 559,526 C556,508 553,488 552,470Z" transform="translate(1271,0) scale(-1,1)"/></g>
<g fill="#4f2a68"><path d="M635.5,345.7 C590,345.7 554,382 554,428 C554,465 558,505 567,530 C575,552 590,575 610,589 C620,595 630,597 635.5,597 C641,597 651,595 661,589 C681,575 696,552 704,530 C713,505 717,465 717,428 C717,382 681,345.7 635.5,345.7Z"/><path d="M552,470 C547,465 540,466 537,472 C533,482 537,499 543,510 C548,519 554,524 559,526 C556,508 553,488 552,470Z"/><path d="M552,470 C547,465 540,466 537,472 C533,482 537,499 543,510 C548,519 554,524 559,526 C556,508 553,488 552,470Z" transform="translate(1271,0) scale(-1,1)"/></g>
<g transform="translate(635,273.5)">
<circle cx="-5.3" cy="-6.5" r="89.3" fill="#fd6978" fill-opacity="0.42"/>
<circle cx="5.6" cy="5.4" r="89.7" fill="#fd6978" fill-opacity="0.38"/>
<g clip-path="url(#inside)" transform="translate(-635,-273.5)"><circle cx="640.6" cy="278.9" r="89.7" fill="#f2405f" fill-opacity="0.55"/></g>
<circle r="78" fill="url(#g_crown)" fill-opacity="0.85"/>
</g>
<g transform="translate(635.2,274)" fill="none" stroke="#fff" stroke-width="3.7" stroke-linejoin="round" stroke-linecap="round"><mask id="crownm" maskUnits="userSpaceOnUse" x="-64" y="-64" width="128" height="128"><rect x="-64" y="-64" width="128" height="128" fill="#000" stroke="none"/><g fill="#fff" stroke="none"><circle r="41.5"/><path d="M0,-58.9L9.3,-54.4L11.6,-44.4L5.2,-36.3L-5.2,-36.3L-11.6,-44.4L-9.3,-54.4ZM22.5,-54.4L29.4,-46.7L27.7,-36.5L18.7,-31.5L9.1,-35.5L6.3,-45.4L12.2,-53.8ZM41.6,-41.6L45.1,-31.9L39.6,-23.2L29.3,-22L22,-29.3L23.2,-39.6L31.9,-45.1ZM54.4,-22.5L53.8,-12.2L45.4,-6.3L35.5,-9.1L31.5,-18.7L36.5,-27.7L46.7,-29.4ZM58.9,-0L54.4,9.3L44.4,11.6L36.3,5.2L36.3,-5.2L44.4,-11.6L54.4,-9.3ZM54.4,22.5L46.7,29.4L36.5,27.7L31.5,18.7L35.5,9.1L45.4,6.3L53.8,12.2ZM41.6,41.6L31.9,45.1L23.2,39.6L22,29.3L29.3,22L39.6,23.2L45.1,31.9ZM22.5,54.4L12.2,53.8L6.3,45.4L9.1,35.5L18.7,31.5L27.7,36.5L29.4,46.7ZM0,58.9L-9.3,54.4L-11.6,44.4L-5.2,36.3L5.2,36.3L11.6,44.4L9.3,54.4ZM-22.5,54.4L-29.4,46.7L-27.7,36.5L-18.7,31.5L-9.1,35.5L-6.3,45.4L-12.2,53.8ZM-41.6,41.6L-45.1,31.9L-39.6,23.2L-29.3,22L-22,29.3L-23.2,39.6L-31.9,45.1ZM-54.4,22.5L-53.8,12.2L-45.4,6.3L-35.5,9.1L-31.5,18.7L-36.5,27.7L-46.7,29.4ZM-58.9,0L-54.4,-9.3L-44.4,-11.6L-36.3,-5.2L-36.3,5.2L-44.4,11.6L-54.4,9.3ZM-54.4,-22.5L-46.7,-29.4L-36.5,-27.7L-31.5,-18.7L-35.5,-9.1L-45.4,-6.3L-53.8,-12.2ZM-41.6,-41.6L-31.9,-45.1L-23.2,-39.6L-22,-29.3L-29.3,-22L-39.6,-23.2L-45.1,-31.9ZM-22.5,-54.4L-12.2,-53.8L-6.3,-45.4L-9.1,-35.5L-18.7,-31.5L-27.7,-36.5L-29.4,-46.7Z"/></g><g fill="#000" stroke="none"><path d="M0,-54.9L6.2,-51.9L7.7,-45.2L3.4,-39.9L-3.4,-39.9L-7.7,-45.2L-6.2,-51.9ZM7.9,-39.6L11.3,-37.1L11.4,-32.8L8.1,-30.1L4,-30.9L2,-34.7L3.8,-38.6ZM0,-31.5L3.4,-25.7L-3.4,-25.6ZM21,-50.7L25.6,-45.6L24.4,-38.9L18.4,-35.5L12.1,-38.2L10.2,-44.7L14.2,-50.3ZM22.4,-33.6L24.6,-29.9L23.1,-26L19,-24.7L15.5,-27L15.1,-31.3L18.2,-34.2ZM12.1,-29.1L12.9,-22.4L6.7,-25ZM38.8,-38.8L41.1,-32.3L37.4,-26.5L30.6,-25.8L25.8,-30.6L26.5,-37.4L32.3,-41.1ZM33.6,-22.4L34.2,-18.2L31.3,-15.1L27,-15.5L24.7,-19L26,-23.1L29.9,-24.6ZM22.3,-22.3L20.5,-15.7L15.7,-20.5ZM50.7,-21L50.3,-14.2L44.7,-10.2L38.2,-12.1L35.5,-18.4L38.9,-24.4L45.6,-25.6ZM39.6,-7.9L38.6,-3.8L34.7,-2L30.9,-4L30.1,-8.1L32.8,-11.4L37.1,-11.3ZM29.1,-12.1L25,-6.7L22.4,-12.9ZM54.9,-0L51.9,6.2L45.2,7.7L39.9,3.4L39.9,-3.4L45.2,-7.7L51.9,-6.2ZM39.6,7.9L37.1,11.3L32.8,11.4L30.1,8.1L30.9,4L34.7,2L38.6,3.8ZM31.5,-0L25.7,3.4L25.6,-3.4ZM50.7,21L45.6,25.6L38.9,24.4L35.5,18.4L38.2,12.1L44.7,10.2L50.3,14.2ZM33.6,22.4L29.9,24.6L26,23.1L24.7,19L27,15.5L31.3,15.1L34.2,18.2ZM29.1,12.1L22.4,12.9L25,6.7ZM38.8,38.8L32.3,41.1L26.5,37.4L25.8,30.6L30.6,25.8L37.4,26.5L41.1,32.3ZM22.4,33.6L18.2,34.2L15.1,31.3L15.5,27L19,24.7L23.1,26L24.6,29.9ZM22.3,22.3L15.7,20.5L20.5,15.7ZM21,50.7L14.2,50.3L10.2,44.7L12.1,38.2L18.4,35.5L24.4,38.9L25.6,45.6ZM7.9,39.6L3.8,38.6L2,34.7L4,30.9L8.1,30.1L11.4,32.8L11.3,37.1ZM12.1,29.1L6.7,25L12.9,22.4ZM0,54.9L-6.2,51.9L-7.7,45.2L-3.4,39.9L3.4,39.9L7.7,45.2L6.2,51.9ZM-7.9,39.6L-11.3,37.1L-11.4,32.8L-8.1,30.1L-4,30.9L-2,34.7L-3.8,38.6ZM0,31.5L-3.4,25.7L3.4,25.6ZM-21,50.7L-25.6,45.6L-24.4,38.9L-18.4,35.5L-12.1,38.2L-10.2,44.7L-14.2,50.3ZM-22.4,33.6L-24.6,29.9L-23.1,26L-19,24.7L-15.5,27L-15.1,31.3L-18.2,34.2ZM-12.1,29.1L-12.9,22.4L-6.7,25ZM-38.8,38.8L-41.1,32.3L-37.4,26.5L-30.6,25.8L-25.8,30.6L-26.5,37.4L-32.3,41.1ZM-33.6,22.4L-34.2,18.2L-31.3,15.1L-27,15.5L-24.7,19L-26,23.1L-29.9,24.6ZM-22.3,22.3L-20.5,15.7L-15.7,20.5ZM-50.7,21L-50.3,14.2L-44.7,10.2L-38.2,12.1L-35.5,18.4L-38.9,24.4L-45.6,25.6ZM-39.6,7.9L-38.6,3.8L-34.7,2L-30.9,4L-30.1,8.1L-32.8,11.4L-37.1,11.3ZM-29.1,12.1L-25,6.7L-22.4,12.9ZM-54.9,0L-51.9,-6.2L-45.2,-7.7L-39.9,-3.4L-39.9,3.4L-45.2,7.7L-51.9,6.2ZM-39.6,-7.9L-37.1,-11.3L-32.8,-11.4L-30.1,-8.1L-30.9,-4L-34.7,-2L-38.6,-3.8ZM-31.5,0L-25.7,-3.4L-25.7,3.4ZM-50.7,-21L-45.6,-25.6L-38.9,-24.4L-35.5,-18.4L-38.2,-12.1L-44.7,-10.2L-50.3,-14.2ZM-33.6,-22.4L-29.9,-24.6L-26,-23.1L-24.7,-19L-27,-15.5L-31.3,-15.1L-34.2,-18.2ZM-29.1,-12.1L-22.4,-12.9L-25,-6.7ZM-38.8,-38.8L-32.3,-41.1L-26.5,-37.4L-25.8,-30.6L-30.6,-25.8L-37.4,-26.5L-41.1,-32.3ZM-22.4,-33.6L-18.2,-34.2L-15.1,-31.3L-15.5,-27L-19,-24.7L-23.1,-26L-24.6,-29.9ZM-22.3,-22.3L-15.7,-20.5L-20.5,-15.7ZM-21,-50.7L-14.2,-50.3L-10.2,-44.7L-12.1,-38.2L-18.4,-35.5L-24.4,-38.9L-25.6,-45.6ZM-7.9,-39.6L-3.8,-38.6L-2,-34.7L-4,-30.9L-8.1,-30.1L-11.4,-32.8L-11.3,-37.1ZM-12.1,-29.1L-6.7,-25L-12.9,-22.4Z"/><circle r="19.4"/></g><circle r="9.8" fill="none" stroke="#fff" stroke-width="3.6"/></mask><rect x="-64" y="-64" width="128" height="128" fill="#fff" stroke="none" mask="url(#crownm)"/></g>
<g transform="translate(635.5,451.5)">
<g mask="url(#outside)" transform="translate(-635.5,-451.5)"><circle cx="635.5" cy="451.5" r="95.6" fill="#d59dfb" fill-opacity="0.53"/></g>
<g clip-path="url(#inside)" transform="translate(-635.5,-451.5)"><circle cx="635.5" cy="451.5" r="95.6" fill="#bc3ffd" fill-opacity="0.53"/></g>
<circle r="84.5" fill="#c390df" fill-opacity="0.45"/>
<circle r="78.2" fill="url(#g_third)" fill-opacity="0.4"/>
</g>
<g transform="translate(635.5,451.5)" fill="none" stroke="#fff" stroke-width="3.7" stroke-linejoin="round" stroke-linecap="round"><circle r="36.5"/><path d="M0,36L31.2,-18L-31.2,-18Z"/><path d="M0,-37C-9,-46 -30,-47 -41,-31C-48,-20 -51,-8 -63.5,0C-51,8 -48,20 -41,31C-30,47 -9,46 0,37"/><path d="M0,-37C-9,-46 -30,-47 -41,-31C-48,-20 -51,-8 -63.5,0C-51,8 -48,20 -41,31C-30,47 -9,46 0,37" transform="scale(-1,1)"/></g>
<g transform="translate(635,629)">
<g mask="url(#outside)" transform="translate(-635,-629)"><circle cx="635" cy="629" r="95.6" fill="#42d4f3" fill-opacity="0.45"/></g>
<g clip-path="url(#inside)" transform="translate(-635,-629)"><circle cx="635" cy="629" r="95.6" fill="#51a0f6" fill-opacity="0.45"/></g>
<circle r="84.5" fill="#24d9d9" fill-opacity="0.45"/>
<circle r="78.2" fill="url(#g_throat)" fill-opacity="0.68"/>
</g>
<clipPath id="cl_throat"><circle cx="635" cy="629" r="95.6"/></clipPath>
<g clip-path="url(#cl_throat)" fill="none" stroke="#fff" stroke-opacity="0.22" stroke-width="4" stroke-linecap="round"><path d="M580,566C588,584 612,599.5 635.5,599.5C659,599.5 683,584 691,566"/></g>
<g transform="translate(635,629)" fill="none" stroke="#fff" stroke-width="3.7" stroke-linejoin="round" stroke-linecap="round"><circle r="38.5"/><circle r="18.5"/><path d="M-7.5,-37.8C-10.4,-47.6 -4.5,-51.1 0,-55.5C4.5,-51.1 10.4,-47.6 7.5,-37.8M7.5,-37.8C8.6,-47.9 15.4,-48.9 21.2,-51.3C23.7,-45.4 27.8,-40 21.4,-32M21.4,-32C26.3,-41 32.9,-39.3 39.2,-39.2C39.3,-32.9 41,-26.3 32,-21.4M32,-21.4C40,-27.8 45.4,-23.7 51.3,-21.2C48.9,-15.4 47.9,-8.6 37.8,-7.5M37.8,-7.5C47.6,-10.4 51.1,-4.5 55.5,-0C51.1,4.5 47.6,10.4 37.8,7.5M37.8,7.5C47.9,8.6 48.9,15.4 51.3,21.2C45.4,23.7 40,27.8 32,21.4M32,21.4C41,26.3 39.3,32.9 39.2,39.2C32.9,39.3 26.3,41 21.4,32M21.4,32C27.8,40 23.7,45.4 21.2,51.3C15.4,48.9 8.6,47.9 7.5,37.8M7.5,37.8C10.4,47.6 4.5,51.1 0,55.5C-4.5,51.1 -10.4,47.6 -7.5,37.8M-7.5,37.8C-8.6,47.9 -15.4,48.9 -21.2,51.3C-23.7,45.4 -27.8,40 -21.4,32M-21.4,32C-26.3,41 -32.9,39.3 -39.2,39.2C-39.3,32.9 -41,26.3 -32,21.4M-32,21.4C-40,27.8 -45.4,23.7 -51.3,21.2C-48.9,15.4 -47.9,8.6 -37.8,7.5M-37.8,7.5C-47.6,10.4 -51.1,4.5 -55.5,0C-51.1,-4.5 -47.6,-10.4 -37.8,-7.5M-37.8,-7.5C-47.9,-8.6 -48.9,-15.4 -51.3,-21.2C-45.4,-23.7 -40,-27.8 -32,-21.4M-32,-21.4C-41,-26.3 -39.3,-32.9 -39.2,-39.2C-32.9,-39.3 -26.3,-41 -21.4,-32M-21.4,-32C-27.8,-40 -23.7,-45.4 -21.2,-51.3C-15.4,-48.9 -8.6,-47.9 -7.5,-37.8"/></g>
<g transform="translate(635.5,806.5)">
<circle r="95.6" fill="#b7c633" fill-opacity="0.45"/>
<circle r="84.5" fill="#aafe47" fill-opacity="0.55"/>
<circle r="78.2" fill="url(#g_heart)" fill-opacity="0.8"/>
</g>
<g transform="translate(635.2,806.9)" fill="none" stroke="#fff" stroke-width="3.7" stroke-linejoin="round" stroke-linecap="round"><circle r="36.5"/><path d="M0,-36L31.2,18L-31.2,18Z"/><path d="M0,36L31.2,-18L-31.2,-18Z"/><path d="M-9.4,-35.3C-12.8,-45.2 -6.3,-47.5 0,-55.6C6.3,-47.5 12.8,-45.2 9.4,-35.3M9.4,-35.3C11.6,-45.6 18.4,-44.3 27.8,-48.2C29.2,-38 33.7,-32.8 25.8,-25.8M25.8,-25.8C32.8,-33.7 38,-29.2 48.2,-27.8C44.3,-18.4 45.6,-11.6 35.3,-9.4M35.3,-9.4C45.2,-12.8 47.5,-6.3 55.6,-0C47.5,6.3 45.2,12.8 35.3,9.4M35.3,9.4C45.6,11.6 44.3,18.4 48.2,27.8C38,29.2 32.8,33.7 25.8,25.8M25.8,25.8C33.7,32.8 29.2,38 27.8,48.2C18.4,44.3 11.6,45.6 9.4,35.3M9.4,35.3C12.8,45.2 6.3,47.5 0,55.6C-6.3,47.5 -12.8,45.2 -9.4,35.3M-9.4,35.3C-11.6,45.6 -18.4,44.3 -27.8,48.2C-29.2,38 -33.7,32.8 -25.8,25.8M-25.8,25.8C-32.8,33.7 -38,29.2 -48.2,27.8C-44.3,18.4 -45.6,11.6 -35.3,9.4M-35.3,9.4C-45.2,12.8 -47.5,6.3 -55.6,0C-47.5,-6.3 -45.2,-12.8 -35.3,-9.4M-35.3,-9.4C-45.6,-11.6 -44.3,-18.4 -48.2,-27.8C-38,-29.2 -32.8,-33.7 -25.8,-25.8M-25.8,-25.8C-33.7,-32.8 -29.2,-38 -27.8,-48.2C-18.4,-44.3 -11.6,-45.6 -9.4,-35.3"/></g>
<g transform="translate(635.5,984.5)">
<circle r="95.6" fill="#fb9d51" fill-opacity="0.53"/>
<circle r="84.5" fill="#ffe562" fill-opacity="0.53"/>
<circle r="78.2" fill="url(#g_solar)" fill-opacity="0.58"/>
</g>
<g transform="translate(635.2,984.9)" fill="none" stroke="#fff" stroke-width="3.7" stroke-linejoin="round" stroke-linecap="round"><circle r="32.5"/><path d="M0,32L27.7,-16L-27.7,-16Z"/><path d="M-10,-30.9C-15,-41.7 -6.5,-45.9 0,-53.9C6.5,-45.9 15,-41.7 10,-30.9M10,-30.9C12.4,-42.5 21.7,-41 31.7,-43.6C32.3,-33.3 36.6,-24.9 26.3,-19.1M26.3,-19.1C35,-27.1 41.7,-20.4 51.3,-16.7C45.7,-8 44.2,1.4 32.5,-0M32.5,-0C44.2,-1.4 45.7,8 51.3,16.7C41.7,20.4 35,27.1 26.3,19.1M26.3,19.1C36.6,24.9 32.3,33.3 31.7,43.6C21.7,41 12.4,42.5 10,30.9M10,30.9C15,41.7 6.5,45.9 0,53.9C-6.5,45.9 -15,41.7 -10,30.9M-10,30.9C-12.4,42.5 -21.7,41 -31.7,43.6C-32.3,33.3 -36.6,24.9 -26.3,19.1M-26.3,19.1C-35,27.1 -41.7,20.4 -51.3,16.7C-45.7,8 -44.2,-1.4 -32.5,0M-32.5,0C-44.2,1.4 -45.7,-8 -51.3,-16.7C-41.7,-20.4 -35,-27.1 -26.3,-19.1M-26.3,-19.1C-36.6,-24.9 -32.3,-33.3 -31.7,-43.6C-21.7,-41 -12.4,-42.5 -10,-30.9"/></g>
<g transform="translate(635.5,1163)">
<circle r="95.6" fill="#fb6447" fill-opacity="0.57"/>
<circle r="84.5" fill="#ff9a5a" fill-opacity="0.63"/>
<circle r="78.2" fill="url(#g_sacral)" fill-opacity="0.96"/>
</g>
<clipPath id="cl_sacral"><circle cx="635.5" cy="1163" r="78.2"/></clipPath>
<g clip-path="url(#cl_sacral)" fill="none" stroke="#fff2d8" stroke-opacity="0.3" stroke-width="6.4" stroke-linecap="round"><path d="M283.5,1245C291.4,1241.9 314.4,1231.2 331,1226.5C347.6,1221.8 368.7,1218.9 383,1216.8C397.3,1214.7 404.2,1214.4 417,1213.8C429.8,1213.2 447.7,1212.6 460,1213C472.3,1213.4 479.7,1215.4 491,1216.3C502.3,1217.2 516.8,1218.7 528,1218.2C539.2,1217.7 550.2,1215.5 558,1213.5C565.8,1211.5 569.7,1209.2 575,1206C580.3,1202.8 585.2,1198.3 590,1194C594.8,1189.7 599,1183.8 604,1180C609,1176.2 614.7,1172.8 620,1171C625.3,1169.2 630,1168.8 636,1169C642,1169.2 649.7,1169.8 656,1172C662.3,1174.2 668.3,1177.7 674,1182C679.7,1186.3 684.5,1193.3 690,1198C695.5,1202.7 699.8,1206.2 707,1210C714.2,1213.8 722.5,1218 733,1221C743.5,1224 758.8,1225.5 770,1228C781.2,1230.5 791.7,1232.5 800,1236C808.3,1239.5 816.7,1246.6 820,1248.7"/><path d="M930,1228C921.8,1229 895.3,1231.8 881,1234C866.7,1236.2 854.2,1238.5 844,1241C833.8,1243.5 829.2,1244.6 820,1248.7C810.8,1252.8 800.1,1259.2 788.6,1265.4C777.1,1271.6 761.3,1280.4 751,1286C740.7,1291.6 734,1296.1 727,1299C720,1301.9 719.7,1302.9 709,1303.4C698.3,1304 678.3,1301.9 663,1302.3C647.7,1302.7 635.3,1303.8 617,1305.7C598.7,1307.6 563.7,1312.2 553,1313.5"/></g>
<g transform="translate(635.1,1161.7)" fill="none" stroke="#fff" stroke-width="3.7" stroke-linejoin="round" stroke-linecap="round"><circle r="36.6"/><path d="M16.7,-30.4A33.4,27.4 0 1 1 -16.7,-30.4"/><path d="M-19.6,-34C-26,-45 -7,-46.5 0,-55.2C7,-46.5 26,-45 19.6,-34M19.6,-34C26,-45 36.8,-29.3 47.8,-27.6C43.8,-17.2 52,0 39.2,-0M39.2,0C52,-0 43.8,17.2 47.8,27.6C36.8,29.3 26,45 19.6,34M19.6,34C26,45 7,46.5 0,55.2C-7,46.5 -26,45 -19.6,34M-19.6,34C-26,45 -36.8,29.3 -47.8,27.6C-43.8,17.2 -52,-0 -39.2,0M-39.2,-0C-52,0 -43.8,-17.2 -47.8,-27.6C-36.8,-29.3 -26,-45 -19.6,-34"/></g>
<g transform="translate(635.5,1340.5)">
<linearGradient id="g_root_out" x1="0" y1="0" x2="1" y2="0"><stop offset="0" stop-color="#fd90a9"/><stop offset="1" stop-color="#fa7595"/></linearGradient>
<g mask="url(#outside)" transform="translate(-635.5,-1340.5)"><g transform="translate(635.5,1340.5)"><circle r="95.6" fill="#fdc8d4"/><circle r="84.5" fill="#fda5b9"/><circle r="78.2" fill="url(#g_root_out)"/></g></g>
<g clip-path="url(#inside)" transform="translate(-635.5,-1340.5)"><g transform="translate(635.5,1340.5)"><circle r="95.6" fill="#fe4b8e" fill-opacity="0.55"/><circle r="84.5" fill="#ff6491" fill-opacity="0.75"/><circle r="78.2" fill="url(#g_root)" fill-opacity="0.8"/></g></g>
</g>
<clipPath id="cl_root"><circle cx="635.5" cy="1340.5" r="78.2"/></clipPath>
<g clip-path="url(#cl_root)" fill="none" stroke="#fff2d8" stroke-opacity="0.3" stroke-width="6.4" stroke-linecap="round"><path d="M283.5,1245C291.4,1241.9 314.4,1231.2 331,1226.5C347.6,1221.8 368.7,1218.9 383,1216.8C397.3,1214.7 404.2,1214.4 417,1213.8C429.8,1213.2 447.7,1212.6 460,1213C472.3,1213.4 479.7,1215.4 491,1216.3C502.3,1217.2 516.8,1218.7 528,1218.2C539.2,1217.7 550.2,1215.5 558,1213.5C565.8,1211.5 569.7,1209.2 575,1206C580.3,1202.8 585.2,1198.3 590,1194C594.8,1189.7 599,1183.8 604,1180C609,1176.2 614.7,1172.8 620,1171C625.3,1169.2 630,1168.8 636,1169C642,1169.2 649.7,1169.8 656,1172C662.3,1174.2 668.3,1177.7 674,1182C679.7,1186.3 684.5,1193.3 690,1198C695.5,1202.7 699.8,1206.2 707,1210C714.2,1213.8 722.5,1218 733,1221C743.5,1224 758.8,1225.5 770,1228C781.2,1230.5 791.7,1232.5 800,1236C808.3,1239.5 816.7,1246.6 820,1248.7"/><path d="M930,1228C921.8,1229 895.3,1231.8 881,1234C866.7,1236.2 854.2,1238.5 844,1241C833.8,1243.5 829.2,1244.6 820,1248.7C810.8,1252.8 800.1,1259.2 788.6,1265.4C777.1,1271.6 761.3,1280.4 751,1286C740.7,1291.6 734,1296.1 727,1299C720,1301.9 719.7,1302.9 709,1303.4C698.3,1304 678.3,1301.9 663,1302.3C647.7,1302.7 635.3,1303.8 617,1305.7C598.7,1307.6 563.7,1312.2 553,1313.5"/></g>
<g transform="translate(635.5,1340)" fill="none" stroke="#fff" stroke-width="3.7" stroke-linejoin="round" stroke-linecap="round"><circle r="35.3"/><rect x="-24" y="-24" width="48" height="48"/><path d="M-24,-24L0,24L24,-24"/><path d="M-26.5,-26.5C-36,-42 -9,-45 0,-54.7C9,-45 36,-42 26.5,-26.5M26.5,-26.5C42,-36 45,-9 54.7,-0C45,9 42,36 26.5,26.5M26.5,26.5C36,42 9,45 0,54.7C-9,45 -36,42 -26.5,26.5M-26.5,26.5C-42,36 -45,9 -54.7,0C-45,-9 -42,-36 -26.5,-26.5"/></g>
<g fill="#1a1a1a">
<rect x="108" y="64" width="1231" height="8.4"/>
<rect x="1330.3" y="64" width="8.6" height="1332"/>
<path d="M54,67.8L114,42Q104,67.8 114,94Z"/>
<path d="M1334.5,1449L1308,1388Q1334.5,1400 1360.5,1388Z"/>
</g>
<text x="691.6" y="36.3" font-size="49.2" text-anchor="middle">50 Cm</text>
<text transform="translate(1398.6,570) rotate(-90)" font-size="49.2" text-anchor="middle">50 Cm</text>
</svg></body></html>
